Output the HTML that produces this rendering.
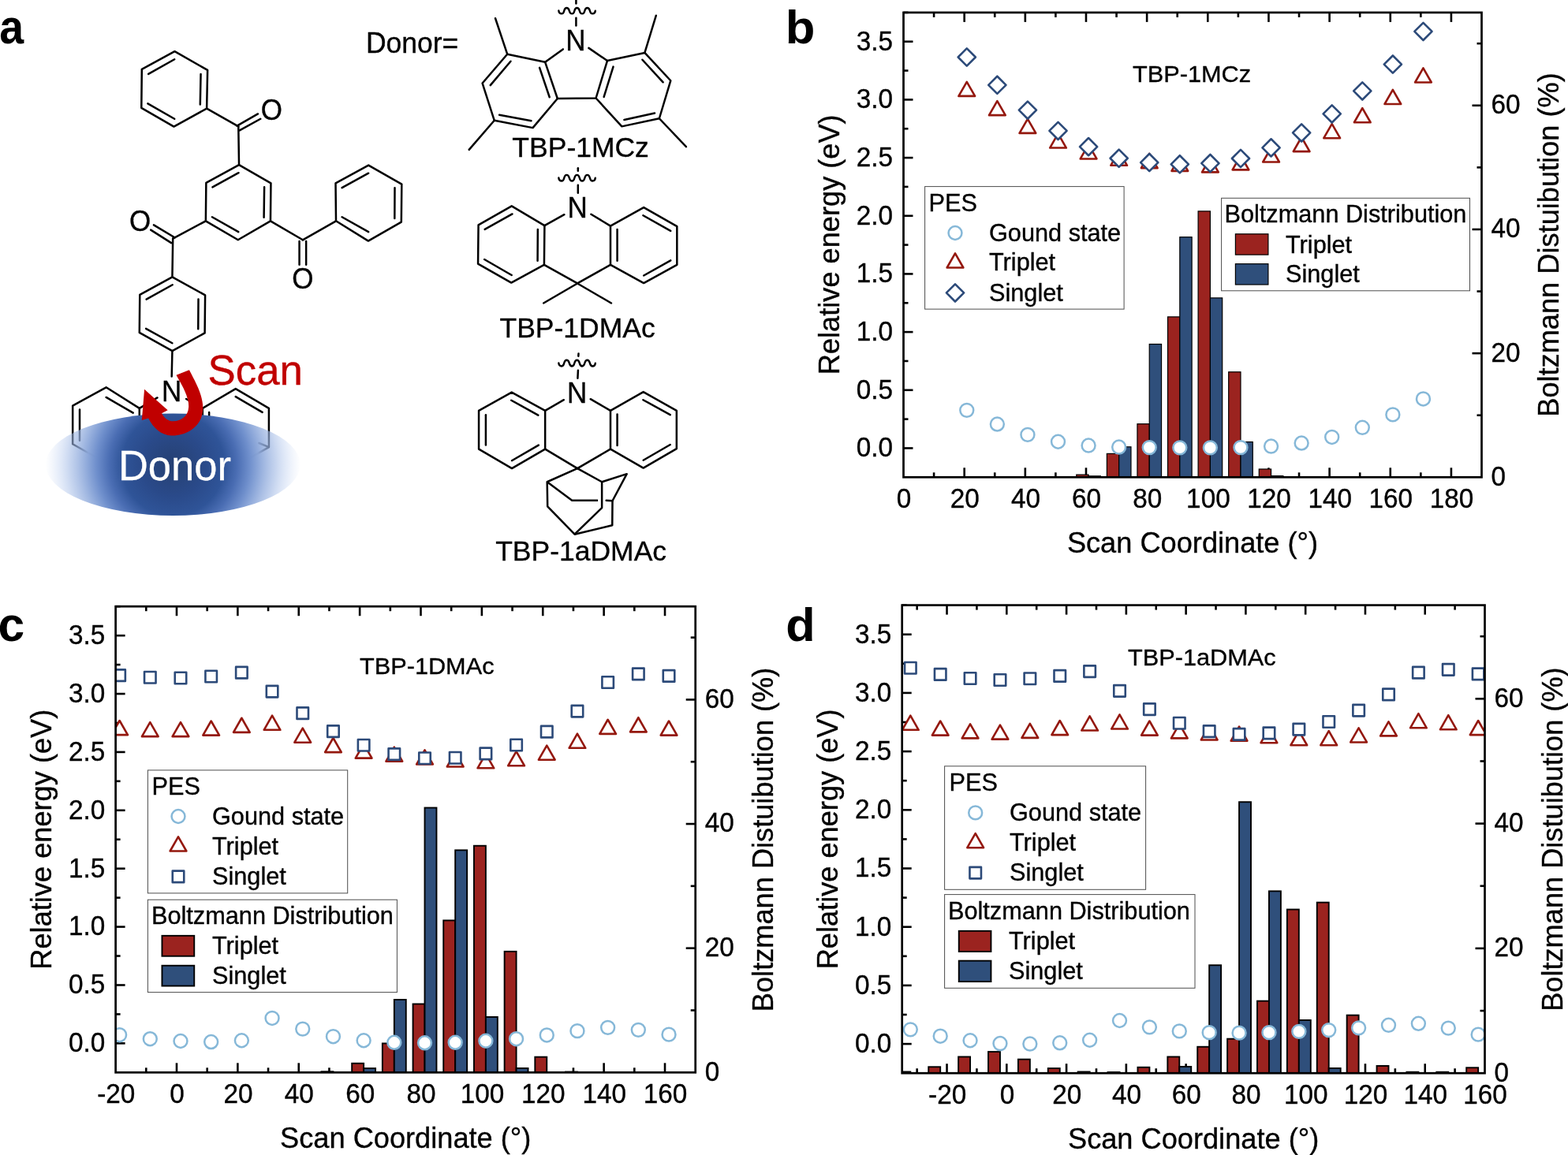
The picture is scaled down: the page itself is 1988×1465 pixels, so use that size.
<!DOCTYPE html>
<html lang="en">
<head>
<meta charset="utf-8">
<title>Potential energy surface scans and Boltzmann distributions</title>
<style>
html,body{margin:0;padding:0;background:#fff;}
body{width:1988px;height:1465px;overflow:hidden;}
svg{display:block;font-family:'Liberation Sans', sans-serif;}
svg text{font-family:'Liberation Sans', sans-serif;}
</style>
</head>
<body>
<svg width="1988" height="1465" viewBox="0 0 1988 1465">
<defs>
<radialGradient id="dg" gradientUnits="userSpaceOnUse" cx="219.3" cy="589.2" r="162">
<stop offset="0" stop-color="#243f73"/>
<stop offset="0.12" stop-color="#28457d"/>
<stop offset="0.25" stop-color="#2a4a8a"/>
<stop offset="0.4" stop-color="#2f5498"/>
<stop offset="0.5" stop-color="#4a6db3"/>
<stop offset="0.6" stop-color="#6f8fcc"/>
<stop offset="0.67" stop-color="#8ca7d9" stop-opacity="0.98"/>
<stop offset="0.8" stop-color="#9db6e3" stop-opacity="0.6"/>
<stop offset="0.9" stop-color="#b3c8ee" stop-opacity="0.32"/>
<stop offset="1" stop-color="#c5d5f2" stop-opacity="0"/>
</radialGradient>
</defs>
<rect width="1988" height="1465" fill="#fff"/>
<g id="panel-a">
<text transform="translate(-0.7 55.3) scale(1 1.1)" font-size="55.5" fill="#000" font-weight="bold">a</text>
<path d="M176.77 517.83 L134.6 491.31 L92.17 514.55 L92.17 563.28 L134.6 587.27 L176.77 563.28 L176.77 517.83" fill="none" stroke="#000" stroke-width="2.5" stroke-linejoin="round"/>
<line x1="168.69" y1="523.64" x2="134.6" y2="503.94" stroke="#000" stroke-width="2.5" stroke-linecap="round"/>
<line x1="101.01" y1="519.6" x2="101.01" y2="558.74" stroke="#000" stroke-width="2.5" stroke-linecap="round"/>
<path d="M256.82 517.83 L298.74 493.08 L340.91 517.83 L340.91 567.07 L298.74 591.06 L256.82 567.07 L256.82 517.83" fill="none" stroke="#000" stroke-width="2.5" stroke-linejoin="round"/>
<line x1="298.74" y1="503.18" x2="332.58" y2="522.88" stroke="#000" stroke-width="2.5" stroke-linecap="round"/>
<line x1="265.15" y1="522.88" x2="265.15" y2="562.02" stroke="#000" stroke-width="2.5" stroke-linecap="round"/>
<line x1="340.91" y1="567.07" x2="328.28" y2="562.02" stroke="#000" stroke-width="2.5" stroke-linecap="round"/>
<line x1="176.77" y1="517.83" x2="199.49" y2="504.44" stroke="#000" stroke-width="2.5" stroke-linecap="round"/>
<line x1="256.82" y1="517.83" x2="236.11" y2="505.96" stroke="#000" stroke-width="2.5" stroke-linecap="round"/>
<path d="M221.46 65.15 L263.13 88.89 L262.12 137.63 L220.45 160.61 L179.29 136.87 L179.8 87.88 Z" fill="none" stroke="#000" stroke-width="2.5" stroke-linejoin="round"/>
<line x1="221.21" y1="75.25" x2="188.13" y2="93.94" stroke="#000" stroke-width="2.5" stroke-linecap="round"/>
<line x1="254.55" y1="93.94" x2="253.79" y2="132.58" stroke="#000" stroke-width="2.5" stroke-linecap="round"/>
<line x1="187.37" y1="131.31" x2="221.21" y2="150.76" stroke="#000" stroke-width="2.5" stroke-linecap="round"/>
<line x1="262.12" y1="137.63" x2="302.27" y2="160.35" stroke="#000" stroke-width="2.5" stroke-linecap="round"/>
<line x1="300.51" y1="159.6" x2="327.02" y2="144.44" stroke="#000" stroke-width="2.5" stroke-linecap="round"/>
<line x1="303.79" y1="165.4" x2="330.3" y2="150.76" stroke="#000" stroke-width="2.5" stroke-linecap="round"/>
<line x1="302.27" y1="160.35" x2="303.03" y2="209.09" stroke="#000" stroke-width="2.5" stroke-linecap="round"/>
<path d="M303.03 209.09 L343.43 232.32 L342.93 280.3 L301.77 304.29 L260.86 280.3 L261.36 231.82 Z" fill="none" stroke="#000" stroke-width="2.5" stroke-linejoin="round"/>
<line x1="302.53" y1="219.19" x2="269.44" y2="237.37" stroke="#000" stroke-width="2.5" stroke-linecap="round"/>
<line x1="335.1" y1="237.37" x2="334.6" y2="275.76" stroke="#000" stroke-width="2.5" stroke-linecap="round"/>
<line x1="302.27" y1="294.19" x2="268.94" y2="275.25" stroke="#000" stroke-width="2.5" stroke-linecap="round"/>
<line x1="260.86" y1="280.3" x2="219.19" y2="302.53" stroke="#000" stroke-width="2.5" stroke-linecap="round"/>
<line x1="221.46" y1="301.26" x2="194.95" y2="285.35" stroke="#000" stroke-width="2.5" stroke-linecap="round"/>
<line x1="217.17" y1="308.08" x2="191.16" y2="291.67" stroke="#000" stroke-width="2.5" stroke-linecap="round"/>
<line x1="219.19" y1="302.53" x2="218.43" y2="351.52" stroke="#000" stroke-width="2.5" stroke-linecap="round"/>
<line x1="342.93" y1="280.3" x2="383.84" y2="304.29" stroke="#000" stroke-width="2.5" stroke-linecap="round"/>
<line x1="379.55" y1="306.06" x2="379.55" y2="335.86" stroke="#000" stroke-width="2.5" stroke-linecap="round"/>
<line x1="388.13" y1="306.06" x2="388.13" y2="335.86" stroke="#000" stroke-width="2.5" stroke-linecap="round"/>
<line x1="383.84" y1="304.29" x2="426.01" y2="280.3" stroke="#000" stroke-width="2.5" stroke-linecap="round"/>
<path d="M467.2 209.6 L509.3 233.6 L508.8 281.6 L466.9 305.6 L426 280.3 L425.5 232.3 Z" fill="none" stroke="#000" stroke-width="2.5" stroke-linejoin="round"/>
<line x1="467.17" y1="219.7" x2="433.59" y2="238.13" stroke="#000" stroke-width="2.5" stroke-linecap="round"/>
<line x1="500.5" y1="238.3" x2="500.3" y2="277" stroke="#000" stroke-width="2.5" stroke-linecap="round"/>
<line x1="433.59" y1="275.25" x2="467.17" y2="294.19" stroke="#000" stroke-width="2.5" stroke-linecap="round"/>
<path d="M218.43 351.41 L260.1 374.39 L259.6 422.37 L218.43 445.1 L176.77 421.87 L177.27 373.89 Z" fill="none" stroke="#000" stroke-width="2.5" stroke-linejoin="round"/>
<line x1="185.61" y1="379.7" x2="218.69" y2="361.26" stroke="#000" stroke-width="2.5" stroke-linecap="round"/>
<line x1="251.52" y1="379.44" x2="251.26" y2="417.32" stroke="#000" stroke-width="2.5" stroke-linecap="round"/>
<line x1="185.1" y1="416.82" x2="218.43" y2="435.25" stroke="#000" stroke-width="2.5" stroke-linecap="round"/>
<line x1="218.43" y1="445.1" x2="217.68" y2="477.42" stroke="#000" stroke-width="2.5" stroke-linecap="round"/>
<text transform="translate(344.44 151.53) scale(1 1.05)" font-size="35" text-anchor="middle" fill="#000" stroke="#000" stroke-width="0.35">O</text>
<text transform="translate(177.53 292.95) scale(1 1.05)" font-size="35" text-anchor="middle" fill="#000" stroke="#000" stroke-width="0.35">O</text>
<text transform="translate(383.84 365.67) scale(1 1.05)" font-size="35" text-anchor="middle" fill="#000" stroke="#000" stroke-width="0.35">O</text>
<text transform="translate(217.68 508.5) scale(1 1.05)" font-size="35" text-anchor="middle" fill="#000" stroke="#000" stroke-width="0.35">N</text>
<ellipse cx="219.3" cy="589.2" rx="161.5" ry="64.7" fill="url(#dg)"/>
<text transform="translate(149.9 608.9) scale(1 1.02)" font-size="52.5" fill="#fff" stroke="#fff" stroke-width="0.3">Donor</text>
<path d="M223.48 475.66 L239.9 469.34 C248.74 486.26 258.84 503.94 257.07 521.62 C255.05 541.82 234.85 553.18 217.17 552.42 C204.55 551.92 194.44 543.08 188.13 530.45 L179.8 532.98 L183.08 493.84 L212.63 520.35 L205.05 524.14 C208.33 530.45 213.38 534.24 219.7 534.24 C229.8 534.24 238.64 527.93 239.14 516.57 C239.9 503.94 231.06 488.79 223.48 475.66 Z" fill="#c00000"/>
<text transform="translate(263.6 487.8) scale(1 1.03)" font-size="52.8" fill="#c00000" stroke="#c00000" stroke-width="0.35">Scan</text>
<text transform="translate(463.89 66.92) scale(1 1.045)" font-size="35.5" fill="#000" stroke="#000" stroke-width="0.35">Donor=</text>
<path d="M708.3 13.47 C708.6 16.07 710.1 17.4 712.1 17.4 C716.64 17.4 713.86 9.95 718.4 9.95 C723.3 9.95 720.3 17.4 725.2 17.4 C729.74 17.4 726.96 9.95 731.5 9.95 C736.25 9.95 733.35 17.4 738.1 17.4 C742.78 17.4 739.92 9.95 744.6 9.95 C749.35 9.95 746.45 17.4 751.2 17.4 C753.2 17.4 754.6 16.07 754.8 13.67" fill="none" stroke="#000" stroke-width="2.4" stroke-linecap="round"/>
<line x1="730.4" y1="-2" x2="730.4" y2="4.6" stroke="#000" stroke-width="2.5" stroke-linecap="round"/>
<line x1="730.4" y1="22.7" x2="730.4" y2="32.4" stroke="#000" stroke-width="2.5" stroke-linecap="round"/>
<text transform="translate(729.85 63.9) scale(1 1.05)" font-size="35" text-anchor="middle" fill="#000" stroke="#000" stroke-width="0.35">N</text>
<line x1="713.8" y1="62.4" x2="691.16" y2="78.79" stroke="#000" stroke-width="2.5" stroke-linecap="round"/>
<line x1="746.4" y1="60.9" x2="769.95" y2="77.02" stroke="#000" stroke-width="2.5" stroke-linecap="round"/>
<path d="M691.16 78.79 L706.82 125 L755.56 124.49 L769.95 77.02" fill="none" stroke="#000" stroke-width="2.5" stroke-linejoin="round"/>
<path d="M691.16 78.79 L643.18 68.69 L611.62 105.56 L626.77 152.78 L675.51 162.12 L706.82 125" fill="none" stroke="#000" stroke-width="2.5" stroke-linejoin="round"/>
<path d="M769.95 77.02 L817.42 66.92 L850.25 102.27 L835.86 150.25 L788.38 160.35 L755.56 124.49" fill="none" stroke="#000" stroke-width="2.5" stroke-linejoin="round"/>
<line x1="643.18" y1="68.69" x2="628.03" y2="23.23" stroke="#000" stroke-width="2.5" stroke-linecap="round"/>
<line x1="626.77" y1="152.78" x2="594.7" y2="189.9" stroke="#000" stroke-width="2.5" stroke-linecap="round"/>
<line x1="817.42" y1="66.92" x2="831.82" y2="19.7" stroke="#000" stroke-width="2.5" stroke-linecap="round"/>
<line x1="835.86" y1="150.25" x2="869.95" y2="186.11" stroke="#000" stroke-width="2.5" stroke-linecap="round"/>
<line x1="684.09" y1="85.86" x2="696.72" y2="123.23" stroke="#000" stroke-width="2.5" stroke-linecap="round"/>
<line x1="647.47" y1="77.78" x2="621.72" y2="108.08" stroke="#000" stroke-width="2.5" stroke-linecap="round"/>
<line x1="633.08" y1="145.71" x2="673.48" y2="153.28" stroke="#000" stroke-width="2.5" stroke-linecap="round"/>
<line x1="777.53" y1="84.6" x2="765.66" y2="122.98" stroke="#000" stroke-width="2.5" stroke-linecap="round"/>
<line x1="814.39" y1="75.76" x2="840.66" y2="104.29" stroke="#000" stroke-width="2.5" stroke-linecap="round"/>
<line x1="830.05" y1="143.43" x2="791.41" y2="152.02" stroke="#000" stroke-width="2.5" stroke-linecap="round"/>
<text transform="translate(736.11 199.49) scale(1 0.985)" font-size="35.5" text-anchor="middle" fill="#000" stroke="#000" stroke-width="0.35">TBP-1MCz</text>
<path d="M708.3 225.5 C708.6 228.1 710.1 229.5 712.1 229.5 C716.64 229.5 713.86 221.9 718.4 221.9 C723.3 221.9 720.3 229.5 725.2 229.5 C729.74 229.5 726.96 221.9 731.5 221.9 C736.25 221.9 733.35 229.5 738.1 229.5 C742.78 229.5 739.92 221.9 744.6 221.9 C749.35 221.9 746.45 229.5 751.2 229.5 C753.2 229.5 754.6 228.1 754.8 225.7" fill="none" stroke="#000" stroke-width="2.4" stroke-linecap="round"/>
<line x1="732.8" y1="213.3" x2="732.8" y2="216.7" stroke="#000" stroke-width="2.5" stroke-linecap="round"/>
<line x1="732.8" y1="234.7" x2="732.8" y2="244.7" stroke="#000" stroke-width="2.5" stroke-linecap="round"/>
<text transform="translate(732.15 276) scale(1 1.05)" font-size="35" text-anchor="middle" fill="#000" stroke="#000" stroke-width="0.35">N</text>
<line x1="715.4" y1="272.2" x2="690.4" y2="286.11" stroke="#000" stroke-width="2.5" stroke-linecap="round"/>
<line x1="749.4" y1="271.7" x2="773.99" y2="286.62" stroke="#000" stroke-width="2.5" stroke-linecap="round"/>
<path d="M690.4 286.11 L648.74 261.36 L606.57 285.35 L606.06 334.6 L648.23 358.59 L689.9 335.86 Z" fill="none" stroke="#000" stroke-width="2.5" stroke-linejoin="round"/>
<path d="M773.99 286.62 L816.16 263.13 L858.33 287.12 L858.33 335.86 L816.16 359.09 L773.99 335.86 Z" fill="none" stroke="#000" stroke-width="2.5" stroke-linejoin="round"/>
<line x1="649.49" y1="271.46" x2="614.65" y2="290.91" stroke="#000" stroke-width="2.5" stroke-linecap="round"/>
<line x1="681.82" y1="290.91" x2="681.57" y2="330.81" stroke="#000" stroke-width="2.5" stroke-linecap="round"/>
<line x1="614.14" y1="329.04" x2="648.74" y2="348.99" stroke="#000" stroke-width="2.5" stroke-linecap="round"/>
<line x1="815.4" y1="273.23" x2="850.25" y2="292.93" stroke="#000" stroke-width="2.5" stroke-linecap="round"/>
<line x1="782.58" y1="290.91" x2="782.58" y2="330.81" stroke="#000" stroke-width="2.5" stroke-linecap="round"/>
<line x1="850.25" y1="330.3" x2="816.16" y2="349.49" stroke="#000" stroke-width="2.5" stroke-linecap="round"/>
<line x1="689.9" y1="335.86" x2="732.07" y2="359.34" stroke="#000" stroke-width="2.5" stroke-linecap="round"/>
<line x1="773.99" y1="335.86" x2="732.07" y2="359.34" stroke="#000" stroke-width="2.5" stroke-linecap="round"/>
<line x1="732.07" y1="359.49" x2="689.14" y2="384.49" stroke="#000" stroke-width="2.5" stroke-linecap="round"/>
<line x1="732.07" y1="359.49" x2="775" y2="384.49" stroke="#000" stroke-width="2.5" stroke-linecap="round"/>
<text transform="translate(732.07 427.68) scale(1 0.985)" font-size="35.5" text-anchor="middle" fill="#000" stroke="#000" stroke-width="0.35">TBP-1DMAc</text>
<path d="M708.3 460.4 C708.6 463 710.1 464.5 712.1 464.5 C716.64 464.5 713.86 456.7 718.4 456.7 C723.3 456.7 720.3 464.5 725.2 464.5 C729.74 464.5 726.96 456.7 731.5 456.7 C736.25 456.7 733.35 464.5 738.1 464.5 C742.78 464.5 739.92 456.7 744.6 456.7 C749.35 456.7 746.45 464.5 751.2 464.5 C753.2 464.5 754.6 463 754.8 460.6" fill="none" stroke="#000" stroke-width="2.4" stroke-linecap="round"/>
<line x1="733.5" y1="448.5" x2="733.3" y2="451.7" stroke="#000" stroke-width="2.5" stroke-linecap="round"/>
<line x1="732.9" y1="469.7" x2="732.4" y2="479.7" stroke="#000" stroke-width="2.5" stroke-linecap="round"/>
<text transform="translate(731.65 511) scale(1 1.05)" font-size="35" text-anchor="middle" fill="#000" stroke="#000" stroke-width="0.35">N</text>
<line x1="714.8" y1="507.2" x2="691.16" y2="520.86" stroke="#000" stroke-width="2.5" stroke-linecap="round"/>
<line x1="748.7" y1="506.2" x2="773.99" y2="520.86" stroke="#000" stroke-width="2.5" stroke-linecap="round"/>
<path d="M691.16 520.86 L648.74 497.63 L607.07 520.86 L607.07 569.6 L648.99 594.09 L691.16 569.6 Z" fill="none" stroke="#000" stroke-width="2.5" stroke-linejoin="round"/>
<path d="M773.99 520.86 L815.66 497.12 L857.83 520.86 L857.83 569.09 L815.66 593.59 L773.99 569.6 Z" fill="none" stroke="#000" stroke-width="2.5" stroke-linejoin="round"/>
<line x1="648.23" y1="507.73" x2="682.32" y2="526.67" stroke="#000" stroke-width="2.5" stroke-linecap="round"/>
<line x1="615.91" y1="526.16" x2="615.91" y2="564.55" stroke="#000" stroke-width="2.5" stroke-linecap="round"/>
<line x1="648.99" y1="584.24" x2="682.83" y2="564.55" stroke="#000" stroke-width="2.5" stroke-linecap="round"/>
<line x1="815.4" y1="507.22" x2="849.75" y2="526.16" stroke="#000" stroke-width="2.5" stroke-linecap="round"/>
<line x1="782.58" y1="525.4" x2="782.58" y2="565.05" stroke="#000" stroke-width="2.5" stroke-linecap="round"/>
<line x1="849.75" y1="564.04" x2="815.66" y2="583.74" stroke="#000" stroke-width="2.5" stroke-linecap="round"/>
<line x1="691.16" y1="569.6" x2="732.07" y2="594.09" stroke="#000" stroke-width="2.5" stroke-linecap="round"/>
<line x1="773.99" y1="569.6" x2="732.07" y2="594.09" stroke="#000" stroke-width="2.5" stroke-linecap="round"/>
<path d="M732.07 594.09 L693.69 611.26 L694.19 642.32 L728.54 677.68 L763.13 644.09 L763.13 611.26 L732.07 594.09" fill="none" stroke="#000" stroke-width="2.5" stroke-linejoin="round"/>
<path d="M763.13 611.26 L794.7 601.16 L776.52 635.25 L776.26 666.31 L728.54 677.68" fill="none" stroke="#000" stroke-width="2.5" stroke-linejoin="round"/>
<path d="M693.69 611.26 L725.25 634.75 L758.08 634.75" fill="none" stroke="#000" stroke-width="2.5" stroke-linejoin="round"/>
<line x1="768.69" y1="634.75" x2="776.52" y2="635.25" stroke="#000" stroke-width="2.5" stroke-linecap="round"/>
<text transform="translate(736.62 711.01) scale(1 0.985)" font-size="35.5" text-anchor="middle" fill="#000" stroke="#000" stroke-width="0.35">TBP-1aDMAc</text>
</g>
<g id="panel-b">
<text transform="translate(995.8 55.1) scale(1 0.965)" font-size="61.6" fill="#000" font-weight="bold">b</text>
<line x1="1184.08" y1="605.3" x2="1184.08" y2="599.3" stroke="#000" stroke-width="2.6" stroke-linecap="butt"/>
<line x1="1184.08" y1="15.9" x2="1184.08" y2="21.9" stroke="#000" stroke-width="2.6" stroke-linecap="butt"/>
<line x1="1222.66" y1="605.3" x2="1222.66" y2="593.3" stroke="#000" stroke-width="2.6" stroke-linecap="butt"/>
<line x1="1222.66" y1="15.9" x2="1222.66" y2="27.9" stroke="#000" stroke-width="2.6" stroke-linecap="butt"/>
<line x1="1261.24" y1="605.3" x2="1261.24" y2="599.3" stroke="#000" stroke-width="2.6" stroke-linecap="butt"/>
<line x1="1261.24" y1="15.9" x2="1261.24" y2="21.9" stroke="#000" stroke-width="2.6" stroke-linecap="butt"/>
<line x1="1299.82" y1="605.3" x2="1299.82" y2="593.3" stroke="#000" stroke-width="2.6" stroke-linecap="butt"/>
<line x1="1299.82" y1="15.9" x2="1299.82" y2="27.9" stroke="#000" stroke-width="2.6" stroke-linecap="butt"/>
<line x1="1338.39" y1="605.3" x2="1338.39" y2="599.3" stroke="#000" stroke-width="2.6" stroke-linecap="butt"/>
<line x1="1338.39" y1="15.9" x2="1338.39" y2="21.9" stroke="#000" stroke-width="2.6" stroke-linecap="butt"/>
<line x1="1376.97" y1="605.3" x2="1376.97" y2="593.3" stroke="#000" stroke-width="2.6" stroke-linecap="butt"/>
<line x1="1376.97" y1="15.9" x2="1376.97" y2="27.9" stroke="#000" stroke-width="2.6" stroke-linecap="butt"/>
<line x1="1415.55" y1="605.3" x2="1415.55" y2="599.3" stroke="#000" stroke-width="2.6" stroke-linecap="butt"/>
<line x1="1415.55" y1="15.9" x2="1415.55" y2="21.9" stroke="#000" stroke-width="2.6" stroke-linecap="butt"/>
<line x1="1454.13" y1="605.3" x2="1454.13" y2="593.3" stroke="#000" stroke-width="2.6" stroke-linecap="butt"/>
<line x1="1454.13" y1="15.9" x2="1454.13" y2="27.9" stroke="#000" stroke-width="2.6" stroke-linecap="butt"/>
<line x1="1492.71" y1="605.3" x2="1492.71" y2="599.3" stroke="#000" stroke-width="2.6" stroke-linecap="butt"/>
<line x1="1492.71" y1="15.9" x2="1492.71" y2="21.9" stroke="#000" stroke-width="2.6" stroke-linecap="butt"/>
<line x1="1531.29" y1="605.3" x2="1531.29" y2="593.3" stroke="#000" stroke-width="2.6" stroke-linecap="butt"/>
<line x1="1531.29" y1="15.9" x2="1531.29" y2="27.9" stroke="#000" stroke-width="2.6" stroke-linecap="butt"/>
<line x1="1569.87" y1="605.3" x2="1569.87" y2="599.3" stroke="#000" stroke-width="2.6" stroke-linecap="butt"/>
<line x1="1569.87" y1="15.9" x2="1569.87" y2="21.9" stroke="#000" stroke-width="2.6" stroke-linecap="butt"/>
<line x1="1608.45" y1="605.3" x2="1608.45" y2="593.3" stroke="#000" stroke-width="2.6" stroke-linecap="butt"/>
<line x1="1608.45" y1="15.9" x2="1608.45" y2="27.9" stroke="#000" stroke-width="2.6" stroke-linecap="butt"/>
<line x1="1647.03" y1="605.3" x2="1647.03" y2="599.3" stroke="#000" stroke-width="2.6" stroke-linecap="butt"/>
<line x1="1647.03" y1="15.9" x2="1647.03" y2="21.9" stroke="#000" stroke-width="2.6" stroke-linecap="butt"/>
<line x1="1685.61" y1="605.3" x2="1685.61" y2="593.3" stroke="#000" stroke-width="2.6" stroke-linecap="butt"/>
<line x1="1685.61" y1="15.9" x2="1685.61" y2="27.9" stroke="#000" stroke-width="2.6" stroke-linecap="butt"/>
<line x1="1724.18" y1="605.3" x2="1724.18" y2="599.3" stroke="#000" stroke-width="2.6" stroke-linecap="butt"/>
<line x1="1724.18" y1="15.9" x2="1724.18" y2="21.9" stroke="#000" stroke-width="2.6" stroke-linecap="butt"/>
<line x1="1762.76" y1="605.3" x2="1762.76" y2="593.3" stroke="#000" stroke-width="2.6" stroke-linecap="butt"/>
<line x1="1762.76" y1="15.9" x2="1762.76" y2="27.9" stroke="#000" stroke-width="2.6" stroke-linecap="butt"/>
<line x1="1801.34" y1="605.3" x2="1801.34" y2="599.3" stroke="#000" stroke-width="2.6" stroke-linecap="butt"/>
<line x1="1801.34" y1="15.9" x2="1801.34" y2="21.9" stroke="#000" stroke-width="2.6" stroke-linecap="butt"/>
<line x1="1839.92" y1="605.3" x2="1839.92" y2="593.3" stroke="#000" stroke-width="2.6" stroke-linecap="butt"/>
<line x1="1839.92" y1="15.9" x2="1839.92" y2="27.9" stroke="#000" stroke-width="2.6" stroke-linecap="butt"/>
<line x1="1145.5" y1="568.46" x2="1157.5" y2="568.46" stroke="#000" stroke-width="2.6" stroke-linecap="butt"/>
<line x1="1145.5" y1="531.62" x2="1151.5" y2="531.62" stroke="#000" stroke-width="2.6" stroke-linecap="butt"/>
<line x1="1145.5" y1="494.79" x2="1157.5" y2="494.79" stroke="#000" stroke-width="2.6" stroke-linecap="butt"/>
<line x1="1145.5" y1="457.95" x2="1151.5" y2="457.95" stroke="#000" stroke-width="2.6" stroke-linecap="butt"/>
<line x1="1145.5" y1="421.11" x2="1157.5" y2="421.11" stroke="#000" stroke-width="2.6" stroke-linecap="butt"/>
<line x1="1145.5" y1="384.27" x2="1151.5" y2="384.27" stroke="#000" stroke-width="2.6" stroke-linecap="butt"/>
<line x1="1145.5" y1="347.44" x2="1157.5" y2="347.44" stroke="#000" stroke-width="2.6" stroke-linecap="butt"/>
<line x1="1145.5" y1="310.6" x2="1151.5" y2="310.6" stroke="#000" stroke-width="2.6" stroke-linecap="butt"/>
<line x1="1145.5" y1="273.76" x2="1157.5" y2="273.76" stroke="#000" stroke-width="2.6" stroke-linecap="butt"/>
<line x1="1145.5" y1="236.92" x2="1151.5" y2="236.92" stroke="#000" stroke-width="2.6" stroke-linecap="butt"/>
<line x1="1145.5" y1="200.09" x2="1157.5" y2="200.09" stroke="#000" stroke-width="2.6" stroke-linecap="butt"/>
<line x1="1145.5" y1="163.25" x2="1151.5" y2="163.25" stroke="#000" stroke-width="2.6" stroke-linecap="butt"/>
<line x1="1145.5" y1="126.41" x2="1157.5" y2="126.41" stroke="#000" stroke-width="2.6" stroke-linecap="butt"/>
<line x1="1145.5" y1="89.57" x2="1151.5" y2="89.57" stroke="#000" stroke-width="2.6" stroke-linecap="butt"/>
<line x1="1145.5" y1="52.74" x2="1157.5" y2="52.74" stroke="#000" stroke-width="2.6" stroke-linecap="butt"/>
<line x1="1145.5" y1="15.9" x2="1151.5" y2="15.9" stroke="#000" stroke-width="2.6" stroke-linecap="butt"/>
<line x1="1878.5" y1="526.71" x2="1872.5" y2="526.71" stroke="#000" stroke-width="2.6" stroke-linecap="butt"/>
<line x1="1878.5" y1="448.13" x2="1866.5" y2="448.13" stroke="#000" stroke-width="2.6" stroke-linecap="butt"/>
<line x1="1878.5" y1="369.54" x2="1872.5" y2="369.54" stroke="#000" stroke-width="2.6" stroke-linecap="butt"/>
<line x1="1878.5" y1="290.95" x2="1866.5" y2="290.95" stroke="#000" stroke-width="2.6" stroke-linecap="butt"/>
<line x1="1878.5" y1="212.37" x2="1872.5" y2="212.37" stroke="#000" stroke-width="2.6" stroke-linecap="butt"/>
<line x1="1878.5" y1="133.78" x2="1866.5" y2="133.78" stroke="#000" stroke-width="2.6" stroke-linecap="butt"/>
<line x1="1878.5" y1="55.19" x2="1872.5" y2="55.19" stroke="#000" stroke-width="2.6" stroke-linecap="butt"/>
<clipPath id="clip-b"><rect x="1145.5" y="15.9" width="733" height="589.4"/></clipPath>
<g clip-path="url(#clip-b)">
<rect x="1364.78" y="602.1" width="15.3" height="3.8" fill="#9b231f" stroke="#000" stroke-width="1.2"/>
<rect x="1379.48" y="603.2" width="16.5" height="2.1" fill="#000"/>
<rect x="1403.36" y="575.4" width="15.3" height="30.5" fill="#9b231f" stroke="#000" stroke-width="1.2"/>
<rect x="1418.66" y="566.8" width="15.3" height="39.1" fill="#2f4f7b" stroke="#000" stroke-width="1.2"/>
<rect x="1441.94" y="537.7" width="15.3" height="68.2" fill="#9b231f" stroke="#000" stroke-width="1.2"/>
<rect x="1457.24" y="436.5" width="15.3" height="169.4" fill="#2f4f7b" stroke="#000" stroke-width="1.2"/>
<rect x="1480.52" y="401.9" width="15.3" height="204" fill="#9b231f" stroke="#000" stroke-width="1.2"/>
<rect x="1495.82" y="300.7" width="15.3" height="305.2" fill="#2f4f7b" stroke="#000" stroke-width="1.2"/>
<rect x="1519.1" y="267.9" width="15.3" height="338" fill="#9b231f" stroke="#000" stroke-width="1.2"/>
<rect x="1534.4" y="377.9" width="15.3" height="228" fill="#2f4f7b" stroke="#000" stroke-width="1.2"/>
<rect x="1557.68" y="471.8" width="15.3" height="134.1" fill="#9b231f" stroke="#000" stroke-width="1.2"/>
<rect x="1572.98" y="560.5" width="15.3" height="45.4" fill="#2f4f7b" stroke="#000" stroke-width="1.2"/>
<rect x="1596.26" y="595" width="15.3" height="10.9" fill="#9b231f" stroke="#000" stroke-width="1.2"/>
<rect x="1611.56" y="603.6" width="15.3" height="2.3" fill="#2f4f7b" stroke="#000" stroke-width="1.2"/>
<circle cx="1225.77" cy="520.35" r="8.45" fill="#fff" stroke="#86b8d8" stroke-width="2.5"/>
<circle cx="1264.34" cy="538.03" r="8.45" fill="#fff" stroke="#86b8d8" stroke-width="2.5"/>
<circle cx="1302.92" cy="551.41" r="8.45" fill="#fff" stroke="#86b8d8" stroke-width="2.5"/>
<circle cx="1341.5" cy="560.25" r="8.45" fill="#fff" stroke="#86b8d8" stroke-width="2.5"/>
<circle cx="1380.08" cy="565.05" r="8.45" fill="#fff" stroke="#86b8d8" stroke-width="2.5"/>
<circle cx="1418.66" cy="567.07" r="8.45" fill="#fff" stroke="#86b8d8" stroke-width="2.5"/>
<circle cx="1457.24" cy="567.58" r="8.45" fill="#fff" stroke="#86b8d8" stroke-width="2.5"/>
<circle cx="1495.82" cy="567.83" r="8.45" fill="#fff" stroke="#86b8d8" stroke-width="2.5"/>
<circle cx="1534.4" cy="567.83" r="8.45" fill="#fff" stroke="#86b8d8" stroke-width="2.5"/>
<circle cx="1572.98" cy="567.58" r="8.45" fill="#fff" stroke="#86b8d8" stroke-width="2.5"/>
<circle cx="1611.56" cy="566.06" r="8.45" fill="#fff" stroke="#86b8d8" stroke-width="2.5"/>
<circle cx="1650.13" cy="562.02" r="8.45" fill="#fff" stroke="#86b8d8" stroke-width="2.5"/>
<circle cx="1688.71" cy="554.44" r="8.45" fill="#fff" stroke="#86b8d8" stroke-width="2.5"/>
<circle cx="1727.29" cy="542.32" r="8.45" fill="#fff" stroke="#86b8d8" stroke-width="2.5"/>
<circle cx="1765.87" cy="525.91" r="8.45" fill="#fff" stroke="#86b8d8" stroke-width="2.5"/>
<circle cx="1804.45" cy="505.96" r="8.45" fill="#fff" stroke="#86b8d8" stroke-width="2.5"/>
<path d="M1225.77 103.82 L1236.12 121.92 L1215.42 121.92 Z" fill="#fff" stroke="#94180e" stroke-width="2.6" stroke-linejoin="round"/>
<path d="M1264.34 128.06 L1274.69 146.16 L1253.99 146.16 Z" fill="#fff" stroke="#94180e" stroke-width="2.6" stroke-linejoin="round"/>
<path d="M1302.92 150.79 L1313.27 168.89 L1292.57 168.89 Z" fill="#fff" stroke="#94180e" stroke-width="2.6" stroke-linejoin="round"/>
<path d="M1341.5 169.47 L1351.85 187.57 L1331.15 187.57 Z" fill="#fff" stroke="#94180e" stroke-width="2.6" stroke-linejoin="round"/>
<path d="M1380.08 183.36 L1390.43 201.46 L1369.73 201.46 Z" fill="#fff" stroke="#94180e" stroke-width="2.6" stroke-linejoin="round"/>
<path d="M1418.66 191.7 L1429.01 209.8 L1408.31 209.8 Z" fill="#fff" stroke="#94180e" stroke-width="2.6" stroke-linejoin="round"/>
<path d="M1457.24 194.98 L1467.59 213.08 L1446.89 213.08 Z" fill="#fff" stroke="#94180e" stroke-width="2.6" stroke-linejoin="round"/>
<path d="M1495.82 198.77 L1506.17 216.87 L1485.47 216.87 Z" fill="#fff" stroke="#94180e" stroke-width="2.6" stroke-linejoin="round"/>
<path d="M1534.4 200.28 L1544.75 218.38 L1524.05 218.38 Z" fill="#fff" stroke="#94180e" stroke-width="2.6" stroke-linejoin="round"/>
<path d="M1572.98 197.25 L1583.33 215.35 L1562.63 215.35 Z" fill="#fff" stroke="#94180e" stroke-width="2.6" stroke-linejoin="round"/>
<path d="M1611.56 187.4 L1621.91 205.5 L1601.21 205.5 Z" fill="#fff" stroke="#94180e" stroke-width="2.6" stroke-linejoin="round"/>
<path d="M1650.13 174.02 L1660.48 192.12 L1639.78 192.12 Z" fill="#fff" stroke="#94180e" stroke-width="2.6" stroke-linejoin="round"/>
<path d="M1688.71 157.1 L1699.06 175.2 L1678.36 175.2 Z" fill="#fff" stroke="#94180e" stroke-width="2.6" stroke-linejoin="round"/>
<path d="M1727.29 137.15 L1737.64 155.25 L1716.94 155.25 Z" fill="#fff" stroke="#94180e" stroke-width="2.6" stroke-linejoin="round"/>
<path d="M1765.87 113.92 L1776.22 132.02 L1755.52 132.02 Z" fill="#fff" stroke="#94180e" stroke-width="2.6" stroke-linejoin="round"/>
<path d="M1804.45 86.39 L1814.8 104.49 L1794.1 104.49 Z" fill="#fff" stroke="#94180e" stroke-width="2.6" stroke-linejoin="round"/>
<path d="M1225.77 61.37 L1236.87 72.47 L1225.77 83.57 L1214.67 72.47 Z" fill="#fff" stroke="#2c4a79" stroke-width="2.6" stroke-linejoin="round"/>
<path d="M1264.34 96.73 L1275.44 107.83 L1264.34 118.93 L1253.24 107.83 Z" fill="#fff" stroke="#2c4a79" stroke-width="2.6" stroke-linejoin="round"/>
<path d="M1302.92 128.55 L1314.02 139.65 L1302.92 150.75 L1291.82 139.65 Z" fill="#fff" stroke="#2c4a79" stroke-width="2.6" stroke-linejoin="round"/>
<path d="M1341.5 154.81 L1352.6 165.91 L1341.5 177.01 L1330.4 165.91 Z" fill="#fff" stroke="#2c4a79" stroke-width="2.6" stroke-linejoin="round"/>
<path d="M1380.08 175.01 L1391.18 186.11 L1380.08 197.21 L1368.98 186.11 Z" fill="#fff" stroke="#2c4a79" stroke-width="2.6" stroke-linejoin="round"/>
<path d="M1418.66 189.66 L1429.76 200.76 L1418.66 211.86 L1407.56 200.76 Z" fill="#fff" stroke="#2c4a79" stroke-width="2.6" stroke-linejoin="round"/>
<path d="M1457.24 194.96 L1468.34 206.06 L1457.24 217.16 L1446.14 206.06 Z" fill="#fff" stroke="#2c4a79" stroke-width="2.6" stroke-linejoin="round"/>
<path d="M1495.82 197.23 L1506.92 208.33 L1495.82 219.43 L1484.72 208.33 Z" fill="#fff" stroke="#2c4a79" stroke-width="2.6" stroke-linejoin="round"/>
<path d="M1534.4 195.97 L1545.5 207.07 L1534.4 218.17 L1523.3 207.07 Z" fill="#fff" stroke="#2c4a79" stroke-width="2.6" stroke-linejoin="round"/>
<path d="M1572.98 189.91 L1584.08 201.01 L1572.98 212.11 L1561.88 201.01 Z" fill="#fff" stroke="#2c4a79" stroke-width="2.6" stroke-linejoin="round"/>
<path d="M1611.56 176.27 L1622.66 187.37 L1611.56 198.47 L1600.46 187.37 Z" fill="#fff" stroke="#2c4a79" stroke-width="2.6" stroke-linejoin="round"/>
<path d="M1650.13 157.33 L1661.23 168.43 L1650.13 179.53 L1639.03 168.43 Z" fill="#fff" stroke="#2c4a79" stroke-width="2.6" stroke-linejoin="round"/>
<path d="M1688.71 133.34 L1699.81 144.44 L1688.71 155.54 L1677.61 144.44 Z" fill="#fff" stroke="#2c4a79" stroke-width="2.6" stroke-linejoin="round"/>
<path d="M1727.29 104.3 L1738.39 115.4 L1727.29 126.5 L1716.19 115.4 Z" fill="#fff" stroke="#2c4a79" stroke-width="2.6" stroke-linejoin="round"/>
<path d="M1765.87 70.47 L1776.97 81.57 L1765.87 92.67 L1754.77 81.57 Z" fill="#fff" stroke="#2c4a79" stroke-width="2.6" stroke-linejoin="round"/>
<path d="M1804.45 28.8 L1815.55 39.9 L1804.45 51 L1793.35 39.9 Z" fill="#fff" stroke="#2c4a79" stroke-width="2.6" stroke-linejoin="round"/>
</g>
<text transform="translate(1146.1 643.9) scale(1 1.045)" font-size="33.3" text-anchor="middle" fill="#000" stroke="#000" stroke-width="0.35">0</text>
<text transform="translate(1223.26 643.9) scale(1 1.045)" font-size="33.3" text-anchor="middle" fill="#000" stroke="#000" stroke-width="0.35">20</text>
<text transform="translate(1300.42 643.9) scale(1 1.045)" font-size="33.3" text-anchor="middle" fill="#000" stroke="#000" stroke-width="0.35">40</text>
<text transform="translate(1377.57 643.9) scale(1 1.045)" font-size="33.3" text-anchor="middle" fill="#000" stroke="#000" stroke-width="0.35">60</text>
<text transform="translate(1454.73 643.9) scale(1 1.045)" font-size="33.3" text-anchor="middle" fill="#000" stroke="#000" stroke-width="0.35">80</text>
<text transform="translate(1531.89 643.9) scale(1 1.045)" font-size="33.3" text-anchor="middle" fill="#000" stroke="#000" stroke-width="0.35">100</text>
<text transform="translate(1609.05 643.9) scale(1 1.045)" font-size="33.3" text-anchor="middle" fill="#000" stroke="#000" stroke-width="0.35">120</text>
<text transform="translate(1686.21 643.9) scale(1 1.045)" font-size="33.3" text-anchor="middle" fill="#000" stroke="#000" stroke-width="0.35">140</text>
<text transform="translate(1763.36 643.9) scale(1 1.045)" font-size="33.3" text-anchor="middle" fill="#000" stroke="#000" stroke-width="0.35">160</text>
<text transform="translate(1840.52 643.9) scale(1 1.045)" font-size="33.3" text-anchor="middle" fill="#000" stroke="#000" stroke-width="0.35">180</text>
<text transform="translate(1132.1 579.36) scale(1 1.045)" font-size="33.3" text-anchor="end" fill="#000" stroke="#000" stroke-width="0.35">0.0</text>
<text transform="translate(1132.1 505.69) scale(1 1.045)" font-size="33.3" text-anchor="end" fill="#000" stroke="#000" stroke-width="0.35">0.5</text>
<text transform="translate(1132.1 432.01) scale(1 1.045)" font-size="33.3" text-anchor="end" fill="#000" stroke="#000" stroke-width="0.35">1.0</text>
<text transform="translate(1132.1 358.34) scale(1 1.045)" font-size="33.3" text-anchor="end" fill="#000" stroke="#000" stroke-width="0.35">1.5</text>
<text transform="translate(1132.1 284.66) scale(1 1.045)" font-size="33.3" text-anchor="end" fill="#000" stroke="#000" stroke-width="0.35">2.0</text>
<text transform="translate(1132.1 210.99) scale(1 1.045)" font-size="33.3" text-anchor="end" fill="#000" stroke="#000" stroke-width="0.35">2.5</text>
<text transform="translate(1132.1 137.31) scale(1 1.045)" font-size="33.3" text-anchor="end" fill="#000" stroke="#000" stroke-width="0.35">3.0</text>
<text transform="translate(1132.1 63.64) scale(1 1.045)" font-size="33.3" text-anchor="end" fill="#000" stroke="#000" stroke-width="0.35">3.5</text>
<text transform="translate(1890.5 615.7) scale(1 1.045)" font-size="33.3" fill="#000" stroke="#000" stroke-width="0.35">0</text>
<text transform="translate(1890.5 458.53) scale(1 1.045)" font-size="33.3" fill="#000" stroke="#000" stroke-width="0.35">20</text>
<text transform="translate(1890.5 301.35) scale(1 1.045)" font-size="33.3" fill="#000" stroke="#000" stroke-width="0.35">40</text>
<text transform="translate(1890.5 144.18) scale(1 1.045)" font-size="33.3" fill="#000" stroke="#000" stroke-width="0.35">60</text>
<rect x="1145.5" y="15.9" width="733" height="589.4" fill="none" stroke="#000" stroke-width="2.7"/>
<text transform="translate(1063.7 310.3) rotate(-90) scale(1 1.045)" font-size="36.2" text-anchor="middle" fill="#000" stroke="#000" stroke-width="0.35">Relative energy (eV)</text>
<text transform="translate(1976 310.5) rotate(-90) scale(1 1.045)" font-size="36.2" text-anchor="middle" fill="#000" stroke="#000" stroke-width="0.35">Boltzmann Distuibution (%)</text>
<text transform="translate(1512 701) scale(1 1.045)" font-size="36.2" text-anchor="middle" fill="#000" stroke="#000" stroke-width="0.35">Scan Coordinate (°)</text>
<text transform="translate(1436 104) scale(1 0.99)" font-size="30.7" fill="#000" stroke="#000" stroke-width="0.35">TBP-1MCz</text>
<rect x="1172.6" y="236.6" width="252.5" height="155.5" fill="#fff" stroke="#4d4d4d" stroke-width="1"/>
<text transform="translate(1177.5 267.7) scale(1 1.045)" font-size="30.7" fill="#000" stroke="#000" stroke-width="0.35">PES</text>
<circle cx="1211" cy="295.5" r="8.45" fill="#fff" stroke="#86b8d8" stroke-width="2.5"/>
<path d="M1211 321.4 L1221.35 339.5 L1200.65 339.5 Z" fill="#fff" stroke="#94180e" stroke-width="2.6" stroke-linejoin="round"/>
<path d="M1211 360.3 L1222.1 371.4 L1211 382.5 L1199.9 371.4 Z" fill="#fff" stroke="#2c4a79" stroke-width="2.6" stroke-linejoin="round"/>
<text transform="translate(1254 305.6) scale(1 1.045)" font-size="30.7" fill="#000" stroke="#000" stroke-width="0.35">Gound state</text>
<text transform="translate(1254 343.4) scale(1 1.045)" font-size="30.7" fill="#000" stroke="#000" stroke-width="0.35">Triplet</text>
<text transform="translate(1254 381.5) scale(1 1.045)" font-size="30.7" fill="#000" stroke="#000" stroke-width="0.35">Singlet</text>
<rect x="1548.6" y="251.3" width="314.9" height="117.5" fill="#fff" stroke="#4d4d4d" stroke-width="1"/>
<text transform="translate(1552.5 282.3) scale(1 1.045)" font-size="30.7" fill="#000" stroke="#000" stroke-width="0.35">Boltzmann Distribution</text>
<rect x="1566.4" y="296.8" width="41.5" height="26.3" fill="#9b231f" stroke="#000" stroke-width="1.2"/>
<rect x="1566.4" y="334.7" width="41.5" height="26.3" fill="#2f4f7b" stroke="#000" stroke-width="1.2"/>
<text transform="translate(1630 320.7) scale(1 1.045)" font-size="30.7" fill="#000" stroke="#000" stroke-width="0.35">Triplet</text>
<text transform="translate(1630 358) scale(1 1.045)" font-size="30.7" fill="#000" stroke="#000" stroke-width="0.35">Singlet</text>
</g>
<g id="panel-c">
<text transform="translate(-2.6 813.3) scale(1 1)" font-size="60.5" fill="#000" font-weight="bold">c</text>
<line x1="185.29" y1="1360.3" x2="185.29" y2="1354.3" stroke="#000" stroke-width="2.6" stroke-linecap="butt"/>
<line x1="185.29" y1="769.2" x2="185.29" y2="775.2" stroke="#000" stroke-width="2.6" stroke-linecap="butt"/>
<line x1="223.98" y1="1360.3" x2="223.98" y2="1348.3" stroke="#000" stroke-width="2.6" stroke-linecap="butt"/>
<line x1="223.98" y1="769.2" x2="223.98" y2="781.2" stroke="#000" stroke-width="2.6" stroke-linecap="butt"/>
<line x1="262.67" y1="1360.3" x2="262.67" y2="1354.3" stroke="#000" stroke-width="2.6" stroke-linecap="butt"/>
<line x1="262.67" y1="769.2" x2="262.67" y2="775.2" stroke="#000" stroke-width="2.6" stroke-linecap="butt"/>
<line x1="301.36" y1="1360.3" x2="301.36" y2="1348.3" stroke="#000" stroke-width="2.6" stroke-linecap="butt"/>
<line x1="301.36" y1="769.2" x2="301.36" y2="781.2" stroke="#000" stroke-width="2.6" stroke-linecap="butt"/>
<line x1="340.05" y1="1360.3" x2="340.05" y2="1354.3" stroke="#000" stroke-width="2.6" stroke-linecap="butt"/>
<line x1="340.05" y1="769.2" x2="340.05" y2="775.2" stroke="#000" stroke-width="2.6" stroke-linecap="butt"/>
<line x1="378.74" y1="1360.3" x2="378.74" y2="1348.3" stroke="#000" stroke-width="2.6" stroke-linecap="butt"/>
<line x1="378.74" y1="769.2" x2="378.74" y2="781.2" stroke="#000" stroke-width="2.6" stroke-linecap="butt"/>
<line x1="417.43" y1="1360.3" x2="417.43" y2="1354.3" stroke="#000" stroke-width="2.6" stroke-linecap="butt"/>
<line x1="417.43" y1="769.2" x2="417.43" y2="775.2" stroke="#000" stroke-width="2.6" stroke-linecap="butt"/>
<line x1="456.12" y1="1360.3" x2="456.12" y2="1348.3" stroke="#000" stroke-width="2.6" stroke-linecap="butt"/>
<line x1="456.12" y1="769.2" x2="456.12" y2="781.2" stroke="#000" stroke-width="2.6" stroke-linecap="butt"/>
<line x1="494.81" y1="1360.3" x2="494.81" y2="1354.3" stroke="#000" stroke-width="2.6" stroke-linecap="butt"/>
<line x1="494.81" y1="769.2" x2="494.81" y2="775.2" stroke="#000" stroke-width="2.6" stroke-linecap="butt"/>
<line x1="533.49" y1="1360.3" x2="533.49" y2="1348.3" stroke="#000" stroke-width="2.6" stroke-linecap="butt"/>
<line x1="533.49" y1="769.2" x2="533.49" y2="781.2" stroke="#000" stroke-width="2.6" stroke-linecap="butt"/>
<line x1="572.18" y1="1360.3" x2="572.18" y2="1354.3" stroke="#000" stroke-width="2.6" stroke-linecap="butt"/>
<line x1="572.18" y1="769.2" x2="572.18" y2="775.2" stroke="#000" stroke-width="2.6" stroke-linecap="butt"/>
<line x1="610.87" y1="1360.3" x2="610.87" y2="1348.3" stroke="#000" stroke-width="2.6" stroke-linecap="butt"/>
<line x1="610.87" y1="769.2" x2="610.87" y2="781.2" stroke="#000" stroke-width="2.6" stroke-linecap="butt"/>
<line x1="649.56" y1="1360.3" x2="649.56" y2="1354.3" stroke="#000" stroke-width="2.6" stroke-linecap="butt"/>
<line x1="649.56" y1="769.2" x2="649.56" y2="775.2" stroke="#000" stroke-width="2.6" stroke-linecap="butt"/>
<line x1="688.25" y1="1360.3" x2="688.25" y2="1348.3" stroke="#000" stroke-width="2.6" stroke-linecap="butt"/>
<line x1="688.25" y1="769.2" x2="688.25" y2="781.2" stroke="#000" stroke-width="2.6" stroke-linecap="butt"/>
<line x1="726.94" y1="1360.3" x2="726.94" y2="1354.3" stroke="#000" stroke-width="2.6" stroke-linecap="butt"/>
<line x1="726.94" y1="769.2" x2="726.94" y2="775.2" stroke="#000" stroke-width="2.6" stroke-linecap="butt"/>
<line x1="765.63" y1="1360.3" x2="765.63" y2="1348.3" stroke="#000" stroke-width="2.6" stroke-linecap="butt"/>
<line x1="765.63" y1="769.2" x2="765.63" y2="781.2" stroke="#000" stroke-width="2.6" stroke-linecap="butt"/>
<line x1="804.32" y1="1360.3" x2="804.32" y2="1354.3" stroke="#000" stroke-width="2.6" stroke-linecap="butt"/>
<line x1="804.32" y1="769.2" x2="804.32" y2="775.2" stroke="#000" stroke-width="2.6" stroke-linecap="butt"/>
<line x1="843.01" y1="1360.3" x2="843.01" y2="1348.3" stroke="#000" stroke-width="2.6" stroke-linecap="butt"/>
<line x1="843.01" y1="769.2" x2="843.01" y2="781.2" stroke="#000" stroke-width="2.6" stroke-linecap="butt"/>
<line x1="146.6" y1="1323.36" x2="158.6" y2="1323.36" stroke="#000" stroke-width="2.6" stroke-linecap="butt"/>
<line x1="146.6" y1="1286.41" x2="152.6" y2="1286.41" stroke="#000" stroke-width="2.6" stroke-linecap="butt"/>
<line x1="146.6" y1="1249.47" x2="158.6" y2="1249.47" stroke="#000" stroke-width="2.6" stroke-linecap="butt"/>
<line x1="146.6" y1="1212.53" x2="152.6" y2="1212.53" stroke="#000" stroke-width="2.6" stroke-linecap="butt"/>
<line x1="146.6" y1="1175.58" x2="158.6" y2="1175.58" stroke="#000" stroke-width="2.6" stroke-linecap="butt"/>
<line x1="146.6" y1="1138.64" x2="152.6" y2="1138.64" stroke="#000" stroke-width="2.6" stroke-linecap="butt"/>
<line x1="146.6" y1="1101.69" x2="158.6" y2="1101.69" stroke="#000" stroke-width="2.6" stroke-linecap="butt"/>
<line x1="146.6" y1="1064.75" x2="152.6" y2="1064.75" stroke="#000" stroke-width="2.6" stroke-linecap="butt"/>
<line x1="146.6" y1="1027.81" x2="158.6" y2="1027.81" stroke="#000" stroke-width="2.6" stroke-linecap="butt"/>
<line x1="146.6" y1="990.86" x2="152.6" y2="990.86" stroke="#000" stroke-width="2.6" stroke-linecap="butt"/>
<line x1="146.6" y1="953.92" x2="158.6" y2="953.92" stroke="#000" stroke-width="2.6" stroke-linecap="butt"/>
<line x1="146.6" y1="916.98" x2="152.6" y2="916.98" stroke="#000" stroke-width="2.6" stroke-linecap="butt"/>
<line x1="146.6" y1="880.03" x2="158.6" y2="880.03" stroke="#000" stroke-width="2.6" stroke-linecap="butt"/>
<line x1="146.6" y1="843.09" x2="152.6" y2="843.09" stroke="#000" stroke-width="2.6" stroke-linecap="butt"/>
<line x1="146.6" y1="806.14" x2="158.6" y2="806.14" stroke="#000" stroke-width="2.6" stroke-linecap="butt"/>
<line x1="146.6" y1="769.2" x2="152.6" y2="769.2" stroke="#000" stroke-width="2.6" stroke-linecap="butt"/>
<line x1="881.7" y1="1281.49" x2="875.7" y2="1281.49" stroke="#000" stroke-width="2.6" stroke-linecap="butt"/>
<line x1="881.7" y1="1202.67" x2="869.7" y2="1202.67" stroke="#000" stroke-width="2.6" stroke-linecap="butt"/>
<line x1="881.7" y1="1123.86" x2="875.7" y2="1123.86" stroke="#000" stroke-width="2.6" stroke-linecap="butt"/>
<line x1="881.7" y1="1045.05" x2="869.7" y2="1045.05" stroke="#000" stroke-width="2.6" stroke-linecap="butt"/>
<line x1="881.7" y1="966.23" x2="875.7" y2="966.23" stroke="#000" stroke-width="2.6" stroke-linecap="butt"/>
<line x1="881.7" y1="887.42" x2="869.7" y2="887.42" stroke="#000" stroke-width="2.6" stroke-linecap="butt"/>
<line x1="881.7" y1="808.61" x2="875.7" y2="808.61" stroke="#000" stroke-width="2.6" stroke-linecap="butt"/>
<clipPath id="clip-c"><rect x="146.6" y="769.2" width="735.1" height="591.1"/></clipPath>
<g clip-path="url(#clip-c)">
<rect x="406.53" y="1358.3" width="16.85" height="2" fill="#000"/>
<rect x="446.17" y="1348.75" width="14.95" height="12.5" fill="#9b231f" stroke="#000" stroke-width="1.9"/>
<rect x="461.12" y="1355.05" width="14.95" height="6.2" fill="#2f4f7b" stroke="#000" stroke-width="1.9"/>
<rect x="484.86" y="1323.45" width="14.95" height="37.8" fill="#9b231f" stroke="#000" stroke-width="1.9"/>
<rect x="499.81" y="1267.95" width="14.95" height="93.3" fill="#2f4f7b" stroke="#000" stroke-width="1.9"/>
<rect x="523.55" y="1273.45" width="14.95" height="87.8" fill="#9b231f" stroke="#000" stroke-width="1.9"/>
<rect x="538.5" y="1024.55" width="14.95" height="336.7" fill="#2f4f7b" stroke="#000" stroke-width="1.9"/>
<rect x="562.24" y="1167.45" width="14.95" height="193.8" fill="#9b231f" stroke="#000" stroke-width="1.9"/>
<rect x="577.19" y="1078.35" width="14.95" height="282.9" fill="#2f4f7b" stroke="#000" stroke-width="1.9"/>
<rect x="600.93" y="1072.75" width="14.95" height="288.5" fill="#9b231f" stroke="#000" stroke-width="1.9"/>
<rect x="615.88" y="1289.95" width="14.95" height="71.3" fill="#2f4f7b" stroke="#000" stroke-width="1.9"/>
<rect x="639.62" y="1206.85" width="14.95" height="154.4" fill="#9b231f" stroke="#000" stroke-width="1.9"/>
<rect x="654.57" y="1354.95" width="14.95" height="6.3" fill="#2f4f7b" stroke="#000" stroke-width="1.9"/>
<rect x="678.31" y="1340.65" width="14.95" height="20.6" fill="#9b231f" stroke="#000" stroke-width="1.9"/>
<rect x="716.05" y="1358.6" width="16.85" height="1.7" fill="#000"/>
<circle cx="151.6" cy="1312.68" r="8.45" fill="#fff" stroke="#86b8d8" stroke-width="2.5"/>
<circle cx="190.29" cy="1317.73" r="8.45" fill="#fff" stroke="#86b8d8" stroke-width="2.5"/>
<circle cx="228.98" cy="1320.51" r="8.45" fill="#fff" stroke="#86b8d8" stroke-width="2.5"/>
<circle cx="267.67" cy="1321.52" r="8.45" fill="#fff" stroke="#86b8d8" stroke-width="2.5"/>
<circle cx="306.36" cy="1319.75" r="8.45" fill="#fff" stroke="#86b8d8" stroke-width="2.5"/>
<circle cx="345.05" cy="1291.46" r="8.45" fill="#fff" stroke="#86b8d8" stroke-width="2.5"/>
<circle cx="383.74" cy="1305.1" r="8.45" fill="#fff" stroke="#86b8d8" stroke-width="2.5"/>
<circle cx="422.43" cy="1314.7" r="8.45" fill="#fff" stroke="#86b8d8" stroke-width="2.5"/>
<circle cx="461.12" cy="1319.75" r="8.45" fill="#fff" stroke="#86b8d8" stroke-width="2.5"/>
<circle cx="499.81" cy="1322.27" r="8.45" fill="#fff" stroke="#86b8d8" stroke-width="2.5"/>
<circle cx="538.5" cy="1322.78" r="8.45" fill="#fff" stroke="#86b8d8" stroke-width="2.5"/>
<circle cx="577.19" cy="1322.27" r="8.45" fill="#fff" stroke="#86b8d8" stroke-width="2.5"/>
<circle cx="615.88" cy="1320.25" r="8.45" fill="#fff" stroke="#86b8d8" stroke-width="2.5"/>
<circle cx="654.57" cy="1317.73" r="8.45" fill="#fff" stroke="#86b8d8" stroke-width="2.5"/>
<circle cx="693.26" cy="1312.93" r="8.45" fill="#fff" stroke="#86b8d8" stroke-width="2.5"/>
<circle cx="731.95" cy="1307.63" r="8.45" fill="#fff" stroke="#86b8d8" stroke-width="2.5"/>
<circle cx="770.64" cy="1303.33" r="8.45" fill="#fff" stroke="#86b8d8" stroke-width="2.5"/>
<circle cx="809.33" cy="1306.36" r="8.45" fill="#fff" stroke="#86b8d8" stroke-width="2.5"/>
<circle cx="848.02" cy="1312.17" r="8.45" fill="#fff" stroke="#86b8d8" stroke-width="2.5"/>
<path d="M151.6 914.02 L161.95 932.12 L141.25 932.12 Z" fill="#fff" stroke="#94180e" stroke-width="2.6" stroke-linejoin="round"/>
<path d="M190.29 916.04 L200.64 934.14 L179.94 934.14 Z" fill="#fff" stroke="#94180e" stroke-width="2.6" stroke-linejoin="round"/>
<path d="M228.98 916.04 L239.33 934.14 L218.63 934.14 Z" fill="#fff" stroke="#94180e" stroke-width="2.6" stroke-linejoin="round"/>
<path d="M267.67 914.52 L278.02 932.62 L257.32 932.62 Z" fill="#fff" stroke="#94180e" stroke-width="2.6" stroke-linejoin="round"/>
<path d="M306.36 910.74 L316.71 928.84 L296.01 928.84 Z" fill="#fff" stroke="#94180e" stroke-width="2.6" stroke-linejoin="round"/>
<path d="M345.05 907.71 L355.4 925.81 L334.7 925.81 Z" fill="#fff" stroke="#94180e" stroke-width="2.6" stroke-linejoin="round"/>
<path d="M383.74 923.62 L394.09 941.72 L373.39 941.72 Z" fill="#fff" stroke="#94180e" stroke-width="2.6" stroke-linejoin="round"/>
<path d="M422.43 935.99 L432.78 954.09 L412.08 954.09 Z" fill="#fff" stroke="#94180e" stroke-width="2.6" stroke-linejoin="round"/>
<path d="M461.12 943.56 L471.47 961.66 L450.77 961.66 Z" fill="#fff" stroke="#94180e" stroke-width="2.6" stroke-linejoin="round"/>
<path d="M499.81 947.61 L510.16 965.71 L489.46 965.71 Z" fill="#fff" stroke="#94180e" stroke-width="2.6" stroke-linejoin="round"/>
<path d="M538.5 951.39 L548.85 969.49 L528.15 969.49 Z" fill="#fff" stroke="#94180e" stroke-width="2.6" stroke-linejoin="round"/>
<path d="M577.19 954.42 L587.54 972.52 L566.84 972.52 Z" fill="#fff" stroke="#94180e" stroke-width="2.6" stroke-linejoin="round"/>
<path d="M615.88 956.19 L626.23 974.29 L605.53 974.29 Z" fill="#fff" stroke="#94180e" stroke-width="2.6" stroke-linejoin="round"/>
<path d="M654.57 953.16 L664.92 971.26 L644.22 971.26 Z" fill="#fff" stroke="#94180e" stroke-width="2.6" stroke-linejoin="round"/>
<path d="M693.26 945.58 L703.61 963.68 L682.91 963.68 Z" fill="#fff" stroke="#94180e" stroke-width="2.6" stroke-linejoin="round"/>
<path d="M731.95 930.69 L742.3 948.79 L721.6 948.79 Z" fill="#fff" stroke="#94180e" stroke-width="2.6" stroke-linejoin="round"/>
<path d="M770.64 912.76 L780.99 930.86 L760.29 930.86 Z" fill="#fff" stroke="#94180e" stroke-width="2.6" stroke-linejoin="round"/>
<path d="M809.33 910.23 L819.68 928.33 L798.98 928.33 Z" fill="#fff" stroke="#94180e" stroke-width="2.6" stroke-linejoin="round"/>
<path d="M848.02 914.52 L858.37 932.62 L837.67 932.62 Z" fill="#fff" stroke="#94180e" stroke-width="2.6" stroke-linejoin="round"/>
<rect x="144.35" y="849.42" width="14.5" height="14.5" fill="#fff" stroke="#2c4a79" stroke-width="2.6" stroke-linejoin="round"/>
<rect x="183.04" y="851.94" width="14.5" height="14.5" fill="#fff" stroke="#2c4a79" stroke-width="2.6" stroke-linejoin="round"/>
<rect x="221.73" y="852.7" width="14.5" height="14.5" fill="#fff" stroke="#2c4a79" stroke-width="2.6" stroke-linejoin="round"/>
<rect x="260.42" y="850.68" width="14.5" height="14.5" fill="#fff" stroke="#2c4a79" stroke-width="2.6" stroke-linejoin="round"/>
<rect x="299.11" y="845.88" width="14.5" height="14.5" fill="#fff" stroke="#2c4a79" stroke-width="2.6" stroke-linejoin="round"/>
<rect x="337.8" y="869.87" width="14.5" height="14.5" fill="#fff" stroke="#2c4a79" stroke-width="2.6" stroke-linejoin="round"/>
<rect x="376.49" y="897.4" width="14.5" height="14.5" fill="#fff" stroke="#2c4a79" stroke-width="2.6" stroke-linejoin="round"/>
<rect x="415.18" y="920.38" width="14.5" height="14.5" fill="#fff" stroke="#2c4a79" stroke-width="2.6" stroke-linejoin="round"/>
<rect x="453.87" y="938.05" width="14.5" height="14.5" fill="#fff" stroke="#2c4a79" stroke-width="2.6" stroke-linejoin="round"/>
<rect x="492.56" y="949.42" width="14.5" height="14.5" fill="#fff" stroke="#2c4a79" stroke-width="2.6" stroke-linejoin="round"/>
<rect x="531.25" y="954.47" width="14.5" height="14.5" fill="#fff" stroke="#2c4a79" stroke-width="2.6" stroke-linejoin="round"/>
<rect x="569.94" y="953.96" width="14.5" height="14.5" fill="#fff" stroke="#2c4a79" stroke-width="2.6" stroke-linejoin="round"/>
<rect x="608.63" y="948.66" width="14.5" height="14.5" fill="#fff" stroke="#2c4a79" stroke-width="2.6" stroke-linejoin="round"/>
<rect x="647.32" y="937.8" width="14.5" height="14.5" fill="#fff" stroke="#2c4a79" stroke-width="2.6" stroke-linejoin="round"/>
<rect x="686.01" y="920.88" width="14.5" height="14.5" fill="#fff" stroke="#2c4a79" stroke-width="2.6" stroke-linejoin="round"/>
<rect x="724.7" y="894.87" width="14.5" height="14.5" fill="#fff" stroke="#2c4a79" stroke-width="2.6" stroke-linejoin="round"/>
<rect x="763.39" y="858.26" width="14.5" height="14.5" fill="#fff" stroke="#2c4a79" stroke-width="2.6" stroke-linejoin="round"/>
<rect x="802.08" y="847.65" width="14.5" height="14.5" fill="#fff" stroke="#2c4a79" stroke-width="2.6" stroke-linejoin="round"/>
<rect x="840.77" y="850.17" width="14.5" height="14.5" fill="#fff" stroke="#2c4a79" stroke-width="2.6" stroke-linejoin="round"/>
</g>
<text transform="translate(147.2 1398.9) scale(1 1.045)" font-size="33.3" text-anchor="middle" fill="#000" stroke="#000" stroke-width="0.35">-20</text>
<text transform="translate(224.58 1398.9) scale(1 1.045)" font-size="33.3" text-anchor="middle" fill="#000" stroke="#000" stroke-width="0.35">0</text>
<text transform="translate(301.96 1398.9) scale(1 1.045)" font-size="33.3" text-anchor="middle" fill="#000" stroke="#000" stroke-width="0.35">20</text>
<text transform="translate(379.34 1398.9) scale(1 1.045)" font-size="33.3" text-anchor="middle" fill="#000" stroke="#000" stroke-width="0.35">40</text>
<text transform="translate(456.72 1398.9) scale(1 1.045)" font-size="33.3" text-anchor="middle" fill="#000" stroke="#000" stroke-width="0.35">60</text>
<text transform="translate(534.09 1398.9) scale(1 1.045)" font-size="33.3" text-anchor="middle" fill="#000" stroke="#000" stroke-width="0.35">80</text>
<text transform="translate(611.47 1398.9) scale(1 1.045)" font-size="33.3" text-anchor="middle" fill="#000" stroke="#000" stroke-width="0.35">100</text>
<text transform="translate(688.85 1398.9) scale(1 1.045)" font-size="33.3" text-anchor="middle" fill="#000" stroke="#000" stroke-width="0.35">120</text>
<text transform="translate(766.23 1398.9) scale(1 1.045)" font-size="33.3" text-anchor="middle" fill="#000" stroke="#000" stroke-width="0.35">140</text>
<text transform="translate(843.61 1398.9) scale(1 1.045)" font-size="33.3" text-anchor="middle" fill="#000" stroke="#000" stroke-width="0.35">160</text>
<text transform="translate(133.2 1334.26) scale(1 1.045)" font-size="33.3" text-anchor="end" fill="#000" stroke="#000" stroke-width="0.35">0.0</text>
<text transform="translate(133.2 1260.37) scale(1 1.045)" font-size="33.3" text-anchor="end" fill="#000" stroke="#000" stroke-width="0.35">0.5</text>
<text transform="translate(133.2 1186.48) scale(1 1.045)" font-size="33.3" text-anchor="end" fill="#000" stroke="#000" stroke-width="0.35">1.0</text>
<text transform="translate(133.2 1112.59) scale(1 1.045)" font-size="33.3" text-anchor="end" fill="#000" stroke="#000" stroke-width="0.35">1.5</text>
<text transform="translate(133.2 1038.71) scale(1 1.045)" font-size="33.3" text-anchor="end" fill="#000" stroke="#000" stroke-width="0.35">2.0</text>
<text transform="translate(133.2 964.82) scale(1 1.045)" font-size="33.3" text-anchor="end" fill="#000" stroke="#000" stroke-width="0.35">2.5</text>
<text transform="translate(133.2 890.93) scale(1 1.045)" font-size="33.3" text-anchor="end" fill="#000" stroke="#000" stroke-width="0.35">3.0</text>
<text transform="translate(133.2 817.04) scale(1 1.045)" font-size="33.3" text-anchor="end" fill="#000" stroke="#000" stroke-width="0.35">3.5</text>
<text transform="translate(893.7 1370.7) scale(1 1.045)" font-size="33.3" fill="#000" stroke="#000" stroke-width="0.35">0</text>
<text transform="translate(893.7 1213.07) scale(1 1.045)" font-size="33.3" fill="#000" stroke="#000" stroke-width="0.35">20</text>
<text transform="translate(893.7 1055.45) scale(1 1.045)" font-size="33.3" fill="#000" stroke="#000" stroke-width="0.35">40</text>
<text transform="translate(893.7 897.82) scale(1 1.045)" font-size="33.3" fill="#000" stroke="#000" stroke-width="0.35">60</text>
<rect x="146.6" y="769.2" width="735.1" height="591.1" fill="none" stroke="#000" stroke-width="2.7"/>
<text transform="translate(64.8 1064.7) rotate(-90) scale(1 1.045)" font-size="36.2" text-anchor="middle" fill="#000" stroke="#000" stroke-width="0.35">Relative energy (eV)</text>
<text transform="translate(980.2 1064.9) rotate(-90) scale(1 1.045)" font-size="36.2" text-anchor="middle" fill="#000" stroke="#000" stroke-width="0.35">Boltzmann Distuibution (%)</text>
<text transform="translate(514.2 1455.5) scale(1 1.045)" font-size="36.2" text-anchor="middle" fill="#000" stroke="#000" stroke-width="0.35">Scan Coordinate (°)</text>
<text transform="translate(456 855.4) scale(1 0.99)" font-size="30.7" fill="#000" stroke="#000" stroke-width="0.35">TBP-1DMAc</text>
<rect x="187.4" y="976.9" width="253.3" height="156" fill="#fff" stroke="#4d4d4d" stroke-width="1"/>
<text transform="translate(192.5 1008.2) scale(1 1.045)" font-size="30.7" fill="#000" stroke="#000" stroke-width="0.35">PES</text>
<circle cx="226" cy="1035.5" r="8.45" fill="#fff" stroke="#86b8d8" stroke-width="2.5"/>
<path d="M226 1061.4 L236.35 1079.5 L215.65 1079.5 Z" fill="#fff" stroke="#94180e" stroke-width="2.6" stroke-linejoin="round"/>
<rect x="218.75" y="1104.65" width="14.5" height="14.5" fill="#fff" stroke="#2c4a79" stroke-width="2.6" stroke-linejoin="round"/>
<text transform="translate(269 1046) scale(1 1.045)" font-size="30.7" fill="#000" stroke="#000" stroke-width="0.35">Gound state</text>
<text transform="translate(269 1084) scale(1 1.045)" font-size="30.7" fill="#000" stroke="#000" stroke-width="0.35">Triplet</text>
<text transform="translate(269 1121.5) scale(1 1.045)" font-size="30.7" fill="#000" stroke="#000" stroke-width="0.35">Singlet</text>
<rect x="187.4" y="1141.2" width="316" height="117.4" fill="#fff" stroke="#4d4d4d" stroke-width="1"/>
<text transform="translate(192 1172) scale(1 1.045)" font-size="30.7" fill="#000" stroke="#000" stroke-width="0.35">Boltzmann Distribution</text>
<rect x="205.45" y="1186.85" width="40.8" height="25.9" fill="#9b231f" stroke="#000" stroke-width="1.9"/>
<rect x="205.45" y="1224.75" width="40.8" height="25.8" fill="#2f4f7b" stroke="#000" stroke-width="1.9"/>
<text transform="translate(269 1210.4) scale(1 1.045)" font-size="30.7" fill="#000" stroke="#000" stroke-width="0.35">Triplet</text>
<text transform="translate(269 1247.8) scale(1 1.045)" font-size="30.7" fill="#000" stroke="#000" stroke-width="0.35">Singlet</text>
</g>
<g id="panel-d">
<text transform="translate(996.3 813) scale(1 0.96)" font-size="61.2" fill="#000" font-weight="bold">d</text>
<line x1="1162.64" y1="1361.2" x2="1162.64" y2="1355.2" stroke="#000" stroke-width="2.6" stroke-linecap="butt"/>
<line x1="1162.64" y1="767.6" x2="1162.64" y2="773.6" stroke="#000" stroke-width="2.6" stroke-linecap="butt"/>
<line x1="1200.53" y1="1361.2" x2="1200.53" y2="1349.2" stroke="#000" stroke-width="2.6" stroke-linecap="butt"/>
<line x1="1200.53" y1="767.6" x2="1200.53" y2="779.6" stroke="#000" stroke-width="2.6" stroke-linecap="butt"/>
<line x1="1238.42" y1="1361.2" x2="1238.42" y2="1355.2" stroke="#000" stroke-width="2.6" stroke-linecap="butt"/>
<line x1="1238.42" y1="767.6" x2="1238.42" y2="773.6" stroke="#000" stroke-width="2.6" stroke-linecap="butt"/>
<line x1="1276.31" y1="1361.2" x2="1276.31" y2="1349.2" stroke="#000" stroke-width="2.6" stroke-linecap="butt"/>
<line x1="1276.31" y1="767.6" x2="1276.31" y2="779.6" stroke="#000" stroke-width="2.6" stroke-linecap="butt"/>
<line x1="1314.19" y1="1361.2" x2="1314.19" y2="1355.2" stroke="#000" stroke-width="2.6" stroke-linecap="butt"/>
<line x1="1314.19" y1="767.6" x2="1314.19" y2="773.6" stroke="#000" stroke-width="2.6" stroke-linecap="butt"/>
<line x1="1352.08" y1="1361.2" x2="1352.08" y2="1349.2" stroke="#000" stroke-width="2.6" stroke-linecap="butt"/>
<line x1="1352.08" y1="767.6" x2="1352.08" y2="779.6" stroke="#000" stroke-width="2.6" stroke-linecap="butt"/>
<line x1="1389.97" y1="1361.2" x2="1389.97" y2="1355.2" stroke="#000" stroke-width="2.6" stroke-linecap="butt"/>
<line x1="1389.97" y1="767.6" x2="1389.97" y2="773.6" stroke="#000" stroke-width="2.6" stroke-linecap="butt"/>
<line x1="1427.85" y1="1361.2" x2="1427.85" y2="1349.2" stroke="#000" stroke-width="2.6" stroke-linecap="butt"/>
<line x1="1427.85" y1="767.6" x2="1427.85" y2="779.6" stroke="#000" stroke-width="2.6" stroke-linecap="butt"/>
<line x1="1465.74" y1="1361.2" x2="1465.74" y2="1355.2" stroke="#000" stroke-width="2.6" stroke-linecap="butt"/>
<line x1="1465.74" y1="767.6" x2="1465.74" y2="773.6" stroke="#000" stroke-width="2.6" stroke-linecap="butt"/>
<line x1="1503.63" y1="1361.2" x2="1503.63" y2="1349.2" stroke="#000" stroke-width="2.6" stroke-linecap="butt"/>
<line x1="1503.63" y1="767.6" x2="1503.63" y2="779.6" stroke="#000" stroke-width="2.6" stroke-linecap="butt"/>
<line x1="1541.52" y1="1361.2" x2="1541.52" y2="1355.2" stroke="#000" stroke-width="2.6" stroke-linecap="butt"/>
<line x1="1541.52" y1="767.6" x2="1541.52" y2="773.6" stroke="#000" stroke-width="2.6" stroke-linecap="butt"/>
<line x1="1579.4" y1="1361.2" x2="1579.4" y2="1349.2" stroke="#000" stroke-width="2.6" stroke-linecap="butt"/>
<line x1="1579.4" y1="767.6" x2="1579.4" y2="779.6" stroke="#000" stroke-width="2.6" stroke-linecap="butt"/>
<line x1="1617.29" y1="1361.2" x2="1617.29" y2="1355.2" stroke="#000" stroke-width="2.6" stroke-linecap="butt"/>
<line x1="1617.29" y1="767.6" x2="1617.29" y2="773.6" stroke="#000" stroke-width="2.6" stroke-linecap="butt"/>
<line x1="1655.18" y1="1361.2" x2="1655.18" y2="1349.2" stroke="#000" stroke-width="2.6" stroke-linecap="butt"/>
<line x1="1655.18" y1="767.6" x2="1655.18" y2="779.6" stroke="#000" stroke-width="2.6" stroke-linecap="butt"/>
<line x1="1693.06" y1="1361.2" x2="1693.06" y2="1355.2" stroke="#000" stroke-width="2.6" stroke-linecap="butt"/>
<line x1="1693.06" y1="767.6" x2="1693.06" y2="773.6" stroke="#000" stroke-width="2.6" stroke-linecap="butt"/>
<line x1="1730.95" y1="1361.2" x2="1730.95" y2="1349.2" stroke="#000" stroke-width="2.6" stroke-linecap="butt"/>
<line x1="1730.95" y1="767.6" x2="1730.95" y2="779.6" stroke="#000" stroke-width="2.6" stroke-linecap="butt"/>
<line x1="1768.84" y1="1361.2" x2="1768.84" y2="1355.2" stroke="#000" stroke-width="2.6" stroke-linecap="butt"/>
<line x1="1768.84" y1="767.6" x2="1768.84" y2="773.6" stroke="#000" stroke-width="2.6" stroke-linecap="butt"/>
<line x1="1806.73" y1="1361.2" x2="1806.73" y2="1349.2" stroke="#000" stroke-width="2.6" stroke-linecap="butt"/>
<line x1="1806.73" y1="767.6" x2="1806.73" y2="779.6" stroke="#000" stroke-width="2.6" stroke-linecap="butt"/>
<line x1="1844.61" y1="1361.2" x2="1844.61" y2="1355.2" stroke="#000" stroke-width="2.6" stroke-linecap="butt"/>
<line x1="1844.61" y1="767.6" x2="1844.61" y2="773.6" stroke="#000" stroke-width="2.6" stroke-linecap="butt"/>
<line x1="1143.7" y1="1324.1" x2="1155.7" y2="1324.1" stroke="#000" stroke-width="2.6" stroke-linecap="butt"/>
<line x1="1143.7" y1="1287" x2="1149.7" y2="1287" stroke="#000" stroke-width="2.6" stroke-linecap="butt"/>
<line x1="1143.7" y1="1249.9" x2="1155.7" y2="1249.9" stroke="#000" stroke-width="2.6" stroke-linecap="butt"/>
<line x1="1143.7" y1="1212.8" x2="1149.7" y2="1212.8" stroke="#000" stroke-width="2.6" stroke-linecap="butt"/>
<line x1="1143.7" y1="1175.7" x2="1155.7" y2="1175.7" stroke="#000" stroke-width="2.6" stroke-linecap="butt"/>
<line x1="1143.7" y1="1138.6" x2="1149.7" y2="1138.6" stroke="#000" stroke-width="2.6" stroke-linecap="butt"/>
<line x1="1143.7" y1="1101.5" x2="1155.7" y2="1101.5" stroke="#000" stroke-width="2.6" stroke-linecap="butt"/>
<line x1="1143.7" y1="1064.4" x2="1149.7" y2="1064.4" stroke="#000" stroke-width="2.6" stroke-linecap="butt"/>
<line x1="1143.7" y1="1027.3" x2="1155.7" y2="1027.3" stroke="#000" stroke-width="2.6" stroke-linecap="butt"/>
<line x1="1143.7" y1="990.2" x2="1149.7" y2="990.2" stroke="#000" stroke-width="2.6" stroke-linecap="butt"/>
<line x1="1143.7" y1="953.1" x2="1155.7" y2="953.1" stroke="#000" stroke-width="2.6" stroke-linecap="butt"/>
<line x1="1143.7" y1="916" x2="1149.7" y2="916" stroke="#000" stroke-width="2.6" stroke-linecap="butt"/>
<line x1="1143.7" y1="878.9" x2="1155.7" y2="878.9" stroke="#000" stroke-width="2.6" stroke-linecap="butt"/>
<line x1="1143.7" y1="841.8" x2="1149.7" y2="841.8" stroke="#000" stroke-width="2.6" stroke-linecap="butt"/>
<line x1="1143.7" y1="804.7" x2="1155.7" y2="804.7" stroke="#000" stroke-width="2.6" stroke-linecap="butt"/>
<line x1="1143.7" y1="767.6" x2="1149.7" y2="767.6" stroke="#000" stroke-width="2.6" stroke-linecap="butt"/>
<line x1="1882.5" y1="1282.05" x2="1876.5" y2="1282.05" stroke="#000" stroke-width="2.6" stroke-linecap="butt"/>
<line x1="1882.5" y1="1202.91" x2="1870.5" y2="1202.91" stroke="#000" stroke-width="2.6" stroke-linecap="butt"/>
<line x1="1882.5" y1="1123.76" x2="1876.5" y2="1123.76" stroke="#000" stroke-width="2.6" stroke-linecap="butt"/>
<line x1="1882.5" y1="1044.61" x2="1870.5" y2="1044.61" stroke="#000" stroke-width="2.6" stroke-linecap="butt"/>
<line x1="1882.5" y1="965.47" x2="1876.5" y2="965.47" stroke="#000" stroke-width="2.6" stroke-linecap="butt"/>
<line x1="1882.5" y1="886.32" x2="1870.5" y2="886.32" stroke="#000" stroke-width="2.6" stroke-linecap="butt"/>
<line x1="1882.5" y1="807.17" x2="1876.5" y2="807.17" stroke="#000" stroke-width="2.6" stroke-linecap="butt"/>
<clipPath id="clip-d"><rect x="1143.7" y="767.6" width="738.8" height="593.6"/></clipPath>
<g clip-path="url(#clip-d)">
<rect x="1139.35" y="1359.45" width="14.95" height="2.7" fill="#9b231f" stroke="#000" stroke-width="1.9"/>
<rect x="1177.24" y="1353.25" width="14.95" height="8.9" fill="#9b231f" stroke="#000" stroke-width="1.9"/>
<rect x="1215.12" y="1340.45" width="14.95" height="21.7" fill="#9b231f" stroke="#000" stroke-width="1.9"/>
<rect x="1253.01" y="1334.05" width="14.95" height="28.1" fill="#9b231f" stroke="#000" stroke-width="1.9"/>
<rect x="1290.9" y="1343.65" width="14.95" height="18.5" fill="#9b231f" stroke="#000" stroke-width="1.9"/>
<rect x="1328.78" y="1355.05" width="14.95" height="7.1" fill="#9b231f" stroke="#000" stroke-width="1.9"/>
<rect x="1366.67" y="1359.45" width="14.95" height="2.7" fill="#9b231f" stroke="#000" stroke-width="1.9"/>
<rect x="1404.56" y="1359.95" width="14.95" height="2.2" fill="#9b231f" stroke="#000" stroke-width="1.9"/>
<rect x="1442.45" y="1353.75" width="14.95" height="8.4" fill="#9b231f" stroke="#000" stroke-width="1.9"/>
<rect x="1480.33" y="1340.45" width="14.95" height="21.7" fill="#9b231f" stroke="#000" stroke-width="1.9"/>
<rect x="1495.28" y="1352.95" width="14.95" height="9.2" fill="#2f4f7b" stroke="#000" stroke-width="1.9"/>
<rect x="1518.22" y="1327.75" width="14.95" height="34.4" fill="#9b231f" stroke="#000" stroke-width="1.9"/>
<rect x="1533.17" y="1224.25" width="14.95" height="137.9" fill="#2f4f7b" stroke="#000" stroke-width="1.9"/>
<rect x="1556.11" y="1317.65" width="14.95" height="44.5" fill="#9b231f" stroke="#000" stroke-width="1.9"/>
<rect x="1571.06" y="1017.25" width="14.95" height="344.9" fill="#2f4f7b" stroke="#000" stroke-width="1.9"/>
<rect x="1593.99" y="1269.65" width="14.95" height="92.5" fill="#9b231f" stroke="#000" stroke-width="1.9"/>
<rect x="1608.94" y="1130.35" width="14.95" height="231.8" fill="#2f4f7b" stroke="#000" stroke-width="1.9"/>
<rect x="1631.88" y="1153.55" width="14.95" height="208.6" fill="#9b231f" stroke="#000" stroke-width="1.9"/>
<rect x="1646.83" y="1293.95" width="14.95" height="68.2" fill="#2f4f7b" stroke="#000" stroke-width="1.9"/>
<rect x="1669.77" y="1144.65" width="14.95" height="217.5" fill="#9b231f" stroke="#000" stroke-width="1.9"/>
<rect x="1684.72" y="1354.95" width="14.95" height="7.2" fill="#2f4f7b" stroke="#000" stroke-width="1.9"/>
<rect x="1707.65" y="1287.65" width="14.95" height="74.5" fill="#9b231f" stroke="#000" stroke-width="1.9"/>
<rect x="1745.54" y="1351.95" width="14.95" height="10.2" fill="#9b231f" stroke="#000" stroke-width="1.9"/>
<rect x="1783.43" y="1359.75" width="14.95" height="2.4" fill="#9b231f" stroke="#000" stroke-width="1.9"/>
<rect x="1821.32" y="1359.75" width="14.95" height="2.4" fill="#9b231f" stroke="#000" stroke-width="1.9"/>
<rect x="1859.2" y="1354.25" width="14.95" height="7.9" fill="#9b231f" stroke="#000" stroke-width="1.9"/>
<circle cx="1154.3" cy="1305.86" r="8.45" fill="#fff" stroke="#86b8d8" stroke-width="2.5"/>
<circle cx="1192.19" cy="1314.19" r="8.45" fill="#fff" stroke="#86b8d8" stroke-width="2.5"/>
<circle cx="1230.07" cy="1319.75" r="8.45" fill="#fff" stroke="#86b8d8" stroke-width="2.5"/>
<circle cx="1267.96" cy="1323.54" r="8.45" fill="#fff" stroke="#86b8d8" stroke-width="2.5"/>
<circle cx="1305.85" cy="1324.04" r="8.45" fill="#fff" stroke="#86b8d8" stroke-width="2.5"/>
<circle cx="1343.73" cy="1322.78" r="8.45" fill="#fff" stroke="#86b8d8" stroke-width="2.5"/>
<circle cx="1381.62" cy="1319.24" r="8.45" fill="#fff" stroke="#86b8d8" stroke-width="2.5"/>
<circle cx="1419.51" cy="1294.49" r="8.45" fill="#fff" stroke="#86b8d8" stroke-width="2.5"/>
<circle cx="1457.4" cy="1302.83" r="8.45" fill="#fff" stroke="#86b8d8" stroke-width="2.5"/>
<circle cx="1495.28" cy="1307.88" r="8.45" fill="#fff" stroke="#86b8d8" stroke-width="2.5"/>
<circle cx="1533.17" cy="1309.65" r="8.45" fill="#fff" stroke="#86b8d8" stroke-width="2.5"/>
<circle cx="1571.06" cy="1310.15" r="8.45" fill="#fff" stroke="#86b8d8" stroke-width="2.5"/>
<circle cx="1608.94" cy="1309.65" r="8.45" fill="#fff" stroke="#86b8d8" stroke-width="2.5"/>
<circle cx="1646.83" cy="1308.38" r="8.45" fill="#fff" stroke="#86b8d8" stroke-width="2.5"/>
<circle cx="1684.72" cy="1306.62" r="8.45" fill="#fff" stroke="#86b8d8" stroke-width="2.5"/>
<circle cx="1722.61" cy="1303.84" r="8.45" fill="#fff" stroke="#86b8d8" stroke-width="2.5"/>
<circle cx="1760.49" cy="1300.3" r="8.45" fill="#fff" stroke="#86b8d8" stroke-width="2.5"/>
<circle cx="1798.38" cy="1298.28" r="8.45" fill="#fff" stroke="#86b8d8" stroke-width="2.5"/>
<circle cx="1836.27" cy="1304.09" r="8.45" fill="#fff" stroke="#86b8d8" stroke-width="2.5"/>
<circle cx="1874.15" cy="1312.17" r="8.45" fill="#fff" stroke="#86b8d8" stroke-width="2.5"/>
<path d="M1154.3 907.71 L1164.65 925.81 L1143.95 925.81 Z" fill="#fff" stroke="#94180e" stroke-width="2.6" stroke-linejoin="round"/>
<path d="M1192.19 914.52 L1202.54 932.62 L1181.84 932.62 Z" fill="#fff" stroke="#94180e" stroke-width="2.6" stroke-linejoin="round"/>
<path d="M1230.07 918.31 L1240.42 936.41 L1219.72 936.41 Z" fill="#fff" stroke="#94180e" stroke-width="2.6" stroke-linejoin="round"/>
<path d="M1267.96 919.57 L1278.31 937.67 L1257.61 937.67 Z" fill="#fff" stroke="#94180e" stroke-width="2.6" stroke-linejoin="round"/>
<path d="M1305.85 917.81 L1316.2 935.91 L1295.5 935.91 Z" fill="#fff" stroke="#94180e" stroke-width="2.6" stroke-linejoin="round"/>
<path d="M1343.73 914.02 L1354.08 932.12 L1333.38 932.12 Z" fill="#fff" stroke="#94180e" stroke-width="2.6" stroke-linejoin="round"/>
<path d="M1381.62 908.46 L1391.97 926.56 L1371.27 926.56 Z" fill="#fff" stroke="#94180e" stroke-width="2.6" stroke-linejoin="round"/>
<path d="M1419.51 906.44 L1429.86 924.54 L1409.16 924.54 Z" fill="#fff" stroke="#94180e" stroke-width="2.6" stroke-linejoin="round"/>
<path d="M1457.4 914.52 L1467.75 932.62 L1447.05 932.62 Z" fill="#fff" stroke="#94180e" stroke-width="2.6" stroke-linejoin="round"/>
<path d="M1495.28 918.31 L1505.63 936.41 L1484.93 936.41 Z" fill="#fff" stroke="#94180e" stroke-width="2.6" stroke-linejoin="round"/>
<path d="M1533.17 920.33 L1543.52 938.43 L1522.82 938.43 Z" fill="#fff" stroke="#94180e" stroke-width="2.6" stroke-linejoin="round"/>
<path d="M1571.06 921.59 L1581.41 939.69 L1560.71 939.69 Z" fill="#fff" stroke="#94180e" stroke-width="2.6" stroke-linejoin="round"/>
<path d="M1608.94 924.12 L1619.29 942.22 L1598.59 942.22 Z" fill="#fff" stroke="#94180e" stroke-width="2.6" stroke-linejoin="round"/>
<path d="M1646.83 927.15 L1657.18 945.25 L1636.48 945.25 Z" fill="#fff" stroke="#94180e" stroke-width="2.6" stroke-linejoin="round"/>
<path d="M1684.72 927.15 L1695.07 945.25 L1674.37 945.25 Z" fill="#fff" stroke="#94180e" stroke-width="2.6" stroke-linejoin="round"/>
<path d="M1722.61 923.36 L1732.95 941.46 L1712.26 941.46 Z" fill="#fff" stroke="#94180e" stroke-width="2.6" stroke-linejoin="round"/>
<path d="M1760.49 915.28 L1770.84 933.38 L1750.14 933.38 Z" fill="#fff" stroke="#94180e" stroke-width="2.6" stroke-linejoin="round"/>
<path d="M1798.38 905.18 L1808.73 923.28 L1788.03 923.28 Z" fill="#fff" stroke="#94180e" stroke-width="2.6" stroke-linejoin="round"/>
<path d="M1836.27 907.2 L1846.62 925.3 L1825.92 925.3 Z" fill="#fff" stroke="#94180e" stroke-width="2.6" stroke-linejoin="round"/>
<path d="M1874.15 914.02 L1884.5 932.12 L1863.8 932.12 Z" fill="#fff" stroke="#94180e" stroke-width="2.6" stroke-linejoin="round"/>
<rect x="1147.05" y="840.07" width="14.5" height="14.5" fill="#fff" stroke="#2c4a79" stroke-width="2.6" stroke-linejoin="round"/>
<rect x="1184.94" y="848.15" width="14.5" height="14.5" fill="#fff" stroke="#2c4a79" stroke-width="2.6" stroke-linejoin="round"/>
<rect x="1222.82" y="853.2" width="14.5" height="14.5" fill="#fff" stroke="#2c4a79" stroke-width="2.6" stroke-linejoin="round"/>
<rect x="1260.71" y="855.22" width="14.5" height="14.5" fill="#fff" stroke="#2c4a79" stroke-width="2.6" stroke-linejoin="round"/>
<rect x="1298.6" y="853.46" width="14.5" height="14.5" fill="#fff" stroke="#2c4a79" stroke-width="2.6" stroke-linejoin="round"/>
<rect x="1336.48" y="850.17" width="14.5" height="14.5" fill="#fff" stroke="#2c4a79" stroke-width="2.6" stroke-linejoin="round"/>
<rect x="1374.37" y="844.37" width="14.5" height="14.5" fill="#fff" stroke="#2c4a79" stroke-width="2.6" stroke-linejoin="round"/>
<rect x="1412.26" y="869.11" width="14.5" height="14.5" fill="#fff" stroke="#2c4a79" stroke-width="2.6" stroke-linejoin="round"/>
<rect x="1450.15" y="892.35" width="14.5" height="14.5" fill="#fff" stroke="#2c4a79" stroke-width="2.6" stroke-linejoin="round"/>
<rect x="1488.03" y="910.02" width="14.5" height="14.5" fill="#fff" stroke="#2c4a79" stroke-width="2.6" stroke-linejoin="round"/>
<rect x="1525.92" y="920.38" width="14.5" height="14.5" fill="#fff" stroke="#2c4a79" stroke-width="2.6" stroke-linejoin="round"/>
<rect x="1563.81" y="924.16" width="14.5" height="14.5" fill="#fff" stroke="#2c4a79" stroke-width="2.6" stroke-linejoin="round"/>
<rect x="1601.69" y="922.65" width="14.5" height="14.5" fill="#fff" stroke="#2c4a79" stroke-width="2.6" stroke-linejoin="round"/>
<rect x="1639.58" y="917.85" width="14.5" height="14.5" fill="#fff" stroke="#2c4a79" stroke-width="2.6" stroke-linejoin="round"/>
<rect x="1677.47" y="908.26" width="14.5" height="14.5" fill="#fff" stroke="#2c4a79" stroke-width="2.6" stroke-linejoin="round"/>
<rect x="1715.36" y="893.86" width="14.5" height="14.5" fill="#fff" stroke="#2c4a79" stroke-width="2.6" stroke-linejoin="round"/>
<rect x="1753.24" y="873.66" width="14.5" height="14.5" fill="#fff" stroke="#2c4a79" stroke-width="2.6" stroke-linejoin="round"/>
<rect x="1791.13" y="845.88" width="14.5" height="14.5" fill="#fff" stroke="#2c4a79" stroke-width="2.6" stroke-linejoin="round"/>
<rect x="1829.02" y="842.09" width="14.5" height="14.5" fill="#fff" stroke="#2c4a79" stroke-width="2.6" stroke-linejoin="round"/>
<rect x="1866.9" y="847.65" width="14.5" height="14.5" fill="#fff" stroke="#2c4a79" stroke-width="2.6" stroke-linejoin="round"/>
</g>
<text transform="translate(1201.13 1399.8) scale(1 1.045)" font-size="33.3" text-anchor="middle" fill="#000" stroke="#000" stroke-width="0.35">-20</text>
<text transform="translate(1276.91 1399.8) scale(1 1.045)" font-size="33.3" text-anchor="middle" fill="#000" stroke="#000" stroke-width="0.35">0</text>
<text transform="translate(1352.68 1399.8) scale(1 1.045)" font-size="33.3" text-anchor="middle" fill="#000" stroke="#000" stroke-width="0.35">20</text>
<text transform="translate(1428.45 1399.8) scale(1 1.045)" font-size="33.3" text-anchor="middle" fill="#000" stroke="#000" stroke-width="0.35">40</text>
<text transform="translate(1504.23 1399.8) scale(1 1.045)" font-size="33.3" text-anchor="middle" fill="#000" stroke="#000" stroke-width="0.35">60</text>
<text transform="translate(1580 1399.8) scale(1 1.045)" font-size="33.3" text-anchor="middle" fill="#000" stroke="#000" stroke-width="0.35">80</text>
<text transform="translate(1655.78 1399.8) scale(1 1.045)" font-size="33.3" text-anchor="middle" fill="#000" stroke="#000" stroke-width="0.35">100</text>
<text transform="translate(1731.55 1399.8) scale(1 1.045)" font-size="33.3" text-anchor="middle" fill="#000" stroke="#000" stroke-width="0.35">120</text>
<text transform="translate(1807.33 1399.8) scale(1 1.045)" font-size="33.3" text-anchor="middle" fill="#000" stroke="#000" stroke-width="0.35">140</text>
<text transform="translate(1883.1 1399.8) scale(1 1.045)" font-size="33.3" text-anchor="middle" fill="#000" stroke="#000" stroke-width="0.35">160</text>
<text transform="translate(1130.3 1335) scale(1 1.045)" font-size="33.3" text-anchor="end" fill="#000" stroke="#000" stroke-width="0.35">0.0</text>
<text transform="translate(1130.3 1260.8) scale(1 1.045)" font-size="33.3" text-anchor="end" fill="#000" stroke="#000" stroke-width="0.35">0.5</text>
<text transform="translate(1130.3 1186.6) scale(1 1.045)" font-size="33.3" text-anchor="end" fill="#000" stroke="#000" stroke-width="0.35">1.0</text>
<text transform="translate(1130.3 1112.4) scale(1 1.045)" font-size="33.3" text-anchor="end" fill="#000" stroke="#000" stroke-width="0.35">1.5</text>
<text transform="translate(1130.3 1038.2) scale(1 1.045)" font-size="33.3" text-anchor="end" fill="#000" stroke="#000" stroke-width="0.35">2.0</text>
<text transform="translate(1130.3 964) scale(1 1.045)" font-size="33.3" text-anchor="end" fill="#000" stroke="#000" stroke-width="0.35">2.5</text>
<text transform="translate(1130.3 889.8) scale(1 1.045)" font-size="33.3" text-anchor="end" fill="#000" stroke="#000" stroke-width="0.35">3.0</text>
<text transform="translate(1130.3 815.6) scale(1 1.045)" font-size="33.3" text-anchor="end" fill="#000" stroke="#000" stroke-width="0.35">3.5</text>
<text transform="translate(1894.5 1371.6) scale(1 1.045)" font-size="33.3" fill="#000" stroke="#000" stroke-width="0.35">0</text>
<text transform="translate(1894.5 1213.31) scale(1 1.045)" font-size="33.3" fill="#000" stroke="#000" stroke-width="0.35">20</text>
<text transform="translate(1894.5 1055.01) scale(1 1.045)" font-size="33.3" fill="#000" stroke="#000" stroke-width="0.35">40</text>
<text transform="translate(1894.5 896.72) scale(1 1.045)" font-size="33.3" fill="#000" stroke="#000" stroke-width="0.35">60</text>
<rect x="1143.7" y="767.6" width="738.8" height="593.6" fill="none" stroke="#000" stroke-width="2.7"/>
<text transform="translate(1062 1064.4) rotate(-90) scale(1 1.045)" font-size="36.2" text-anchor="middle" fill="#000" stroke="#000" stroke-width="0.35">Relative energy (eV)</text>
<text transform="translate(1980.7 1064.6) rotate(-90) scale(1 1.045)" font-size="36.2" text-anchor="middle" fill="#000" stroke="#000" stroke-width="0.35">Boltzmann Distuibution (%)</text>
<text transform="translate(1513.1 1457) scale(1 1.045)" font-size="36.2" text-anchor="middle" fill="#000" stroke="#000" stroke-width="0.35">Scan Coordinate (°)</text>
<text transform="translate(1430 843.5) scale(1 0.99)" font-size="30.7" fill="#000" stroke="#000" stroke-width="0.35">TBP-1aDMAc</text>
<rect x="1197.6" y="971.8" width="255" height="156.5" fill="#fff" stroke="#4d4d4d" stroke-width="1"/>
<text transform="translate(1203.5 1003.1) scale(1 1.045)" font-size="30.7" fill="#000" stroke="#000" stroke-width="0.35">PES</text>
<circle cx="1236.7" cy="1030.9" r="8.45" fill="#fff" stroke="#86b8d8" stroke-width="2.5"/>
<path d="M1236.7 1057.1 L1247.05 1075.2 L1226.35 1075.2 Z" fill="#fff" stroke="#94180e" stroke-width="2.6" stroke-linejoin="round"/>
<rect x="1229.45" y="1099.85" width="14.5" height="14.5" fill="#fff" stroke="#2c4a79" stroke-width="2.6" stroke-linejoin="round"/>
<text transform="translate(1280 1041) scale(1 1.045)" font-size="30.7" fill="#000" stroke="#000" stroke-width="0.35">Gound state</text>
<text transform="translate(1280 1078.9) scale(1 1.045)" font-size="30.7" fill="#000" stroke="#000" stroke-width="0.35">Triplet</text>
<text transform="translate(1280 1117.2) scale(1 1.045)" font-size="30.7" fill="#000" stroke="#000" stroke-width="0.35">Singlet</text>
<rect x="1197.6" y="1134.6" width="317.4" height="118.7" fill="#fff" stroke="#4d4d4d" stroke-width="1"/>
<text transform="translate(1202 1165.7) scale(1 1.045)" font-size="30.7" fill="#000" stroke="#000" stroke-width="0.35">Boltzmann Distribution</text>
<rect x="1215.75" y="1180.85" width="40.7" height="26.1" fill="#9b231f" stroke="#000" stroke-width="1.9"/>
<rect x="1215.75" y="1218.65" width="40.7" height="26.4" fill="#2f4f7b" stroke="#000" stroke-width="1.9"/>
<text transform="translate(1279 1204.1) scale(1 1.045)" font-size="30.7" fill="#000" stroke="#000" stroke-width="0.35">Triplet</text>
<text transform="translate(1279 1242) scale(1 1.045)" font-size="30.7" fill="#000" stroke="#000" stroke-width="0.35">Singlet</text>
</g>
</svg>
</body>
</html>
